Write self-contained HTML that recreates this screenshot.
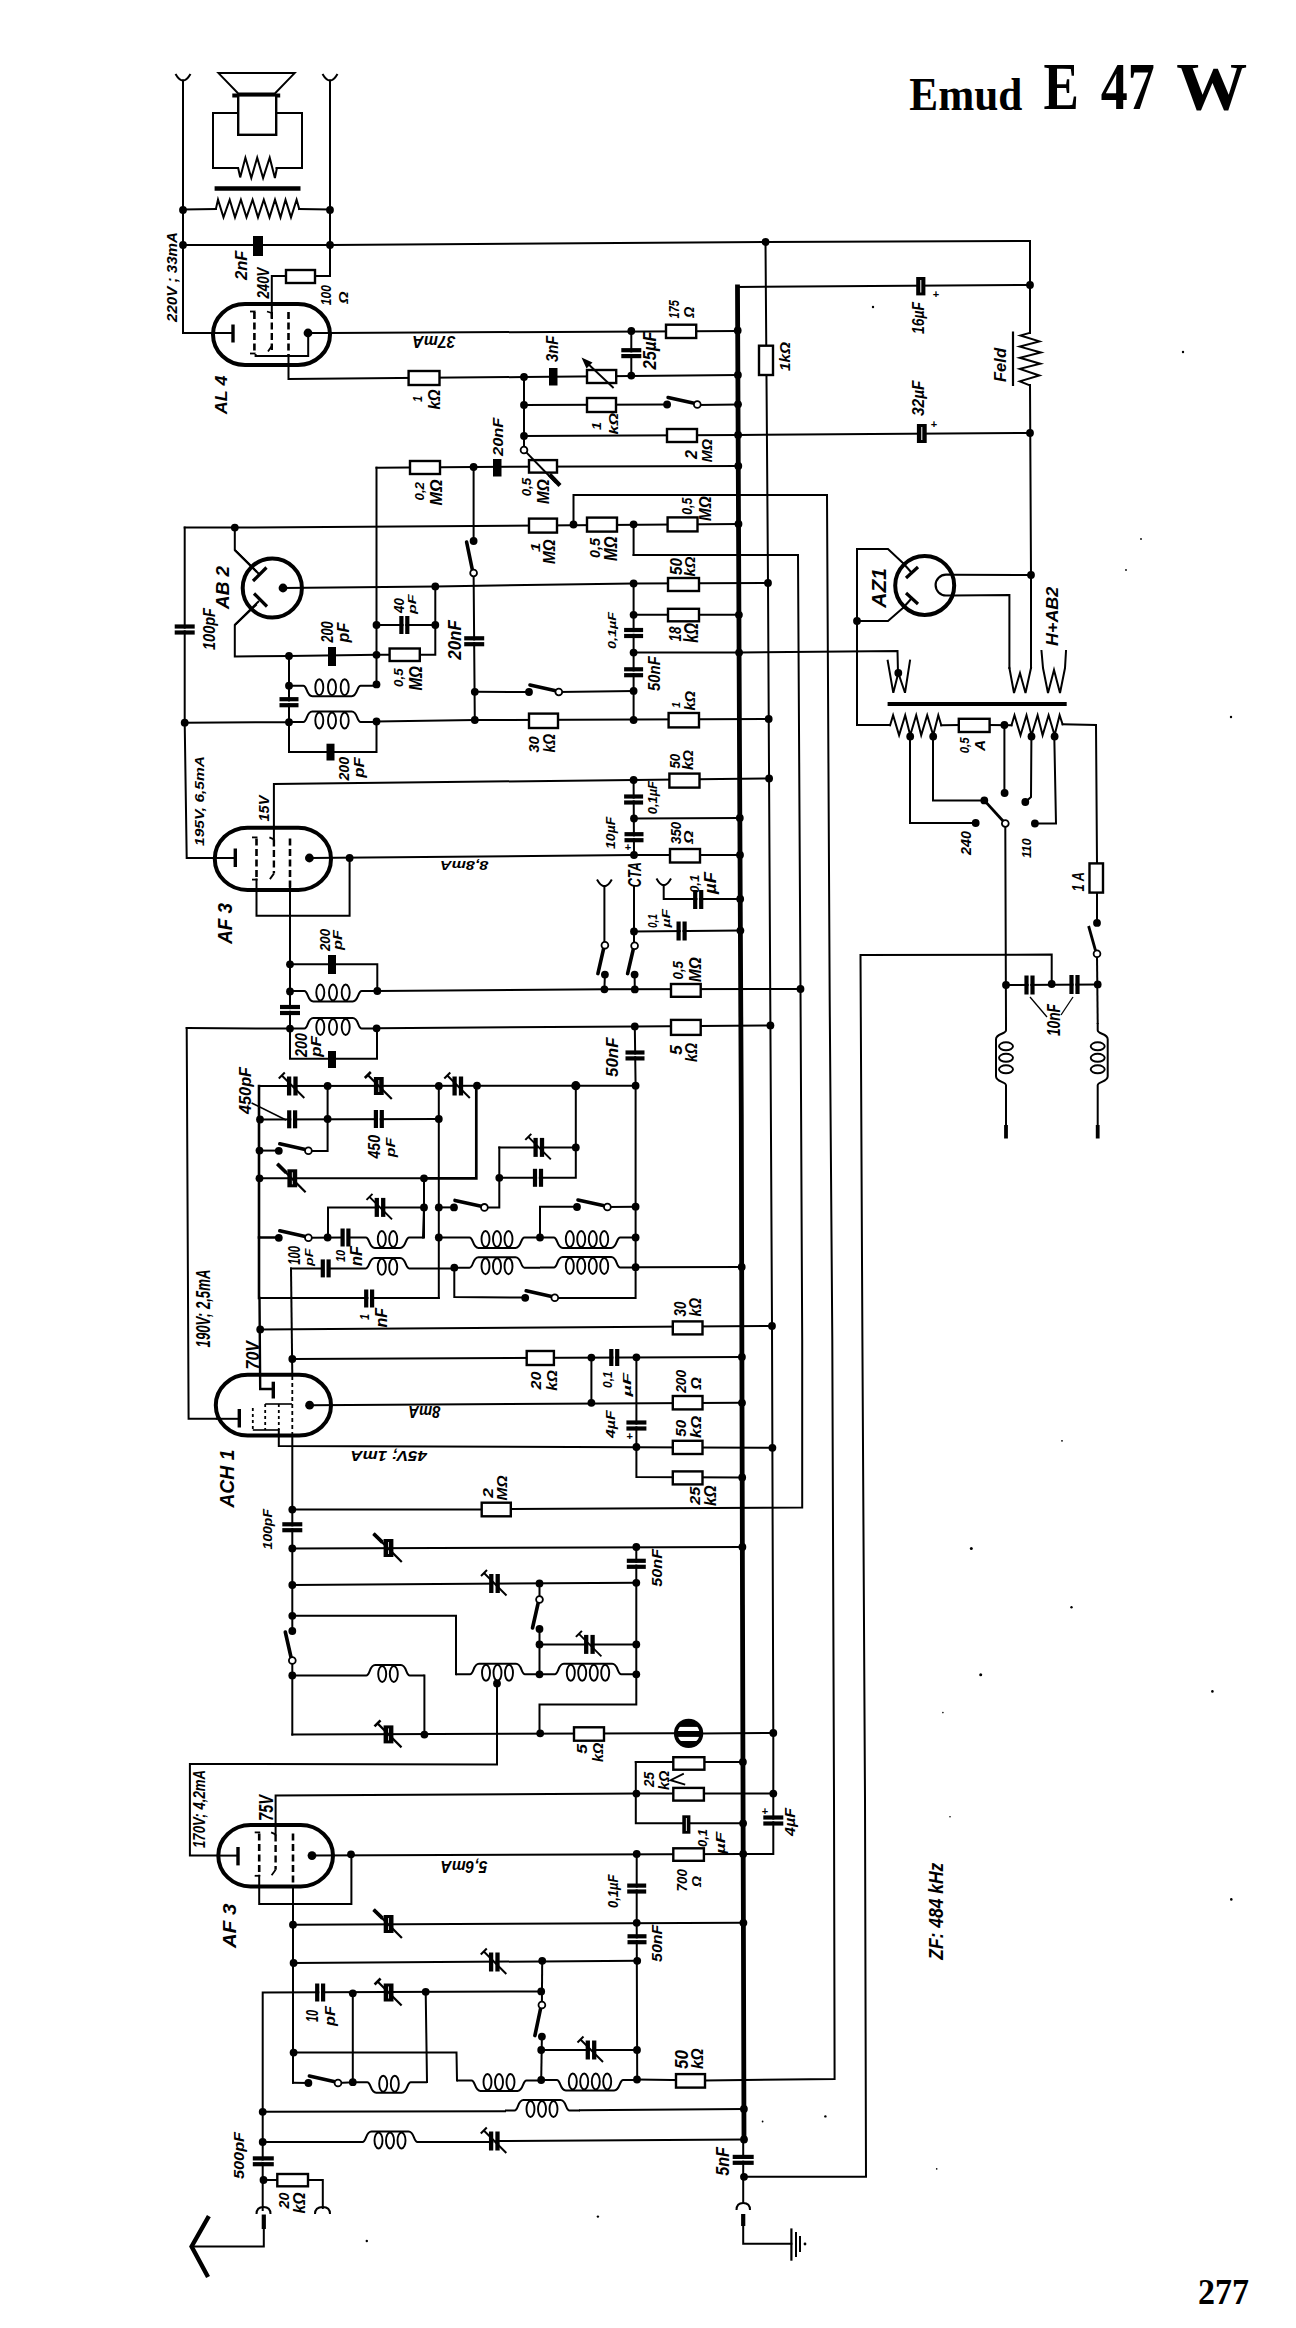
<!DOCTYPE html>
<html><head><meta charset="utf-8"><title>Emud E 47 W</title>
<style>html,body{margin:0;padding:0;background:#fff;}svg{display:block;}</style>
</head><body>
<svg width="1296" height="2328" viewBox="0 0 1296 2328">
<rect width="1296" height="2328" fill="#fff"/>
<text x="909.3" y="110.4" style="font-family:'Liberation Serif',serif;font-size:46px;font-weight:bold;" textLength="113" lengthAdjust="spacingAndGlyphs">Emud</text>
<text x="1043.6" y="109.4" style="font-family:'Liberation Serif',serif;font-size:68px;font-weight:bold;" textLength="35.4" lengthAdjust="spacingAndGlyphs">E</text>
<text x="1100.7" y="109.4" style="font-family:'Liberation Serif',serif;font-size:68px;font-weight:bold;" textLength="54" lengthAdjust="spacingAndGlyphs">47</text>
<text x="1176.3" y="109.4" style="font-family:'Liberation Serif',serif;font-size:68px;font-weight:bold;" textLength="71" lengthAdjust="spacingAndGlyphs">W</text>
<text x="1198" y="2304" style="font-family:'Liberation Serif',serif;font-size:35px;font-weight:bold;" textLength="51" lengthAdjust="spacingAndGlyphs">277</text>
<polyline points="737.5,287 739.5,750 741.3,1115 742.5,1605 744,2140" fill="none" stroke="#000" stroke-width="4.8" stroke-linejoin="miter" stroke-linecap="square"/>
<polyline points="765.5,242 768,583 770.4,1025 772,1326 773.3,1733 773.3,1854 743,1854" fill="none" stroke="#000" stroke-width="2" stroke-linejoin="miter" stroke-linecap="square"/>
<polyline points="633.6,555 798,555 800.5,989 802.2,1340 802.2,1507.5 510.8,1509" fill="none" stroke="#000" stroke-width="2" stroke-linejoin="miter" stroke-linecap="square"/>
<polyline points="573.5,524 573.5,495 827,495 829.7,1000 832.3,1340 834,1800 834.6,2079 705,2080.5" fill="none" stroke="#000" stroke-width="2" stroke-linejoin="miter" stroke-linecap="square"/>
<polyline points="743.2,2176.8 866,2176.8 865,1800 862.4,1340 860.5,955 1051.7,954.6 1051.7,984" fill="none" stroke="#000" stroke-width="2" stroke-linejoin="miter" stroke-linecap="square"/>
<path d="M175.5,74 Q183,87 190.5,74" fill="none" stroke="#000" stroke-width="2"/>
<path d="M322.5,74 Q330,87 337.5,74" fill="none" stroke="#000" stroke-width="2"/>
<polyline points="183,80.5 183,333 214,333" fill="none" stroke="#000" stroke-width="2" stroke-linejoin="miter" stroke-linecap="square"/>
<polyline points="330,80.5 330,276 315,276" fill="none" stroke="#000" stroke-width="2" stroke-linejoin="miter" stroke-linecap="square"/>
<polyline points="286,276 271.8,276 271.8,305" fill="none" stroke="#000" stroke-width="2" stroke-linejoin="miter" stroke-linecap="square"/>
<polygon points="218.5,73.1 294.6,73.1 274.9,93.4 238.2,93.4" fill="#fff" stroke="#000" stroke-width="2"/>
<polyline points="238,113 213,113 213,168 238,168" fill="none" stroke="#000" stroke-width="2" stroke-linejoin="miter" stroke-linecap="square"/>
<polyline points="276.5,113 302,113 302,168 276.5,168" fill="none" stroke="#000" stroke-width="2" stroke-linejoin="miter" stroke-linecap="square"/>
<polyline points="238.2,168.2 240.2,177.4 245.4,157.7 251.3,178 257.2,157.7 263.1,178 269.7,157.7 274.9,178 276.9,168.2" fill="none" stroke="#000" stroke-width="2" stroke-linejoin="miter" stroke-linecap="square"/>
<polyline points="183,209.5 215.9,208.9" fill="none" stroke="#000" stroke-width="2" stroke-linejoin="miter" stroke-linecap="square"/>
<polyline points="299.2,208.9 330,209.5" fill="none" stroke="#000" stroke-width="2" stroke-linejoin="miter" stroke-linecap="square"/>
<polyline points="215.9,208.9 218,199.7 223.5,217.4 229.7,199.7 235,217.4 240.9,199.7 246.5,217.4 252.6,199.7 258,217.4 263.8,199.7 269.5,217.4 275,199.7 280.5,217.4 285.5,199.7 291,217.4 296.6,199.7 299.2,208.9" fill="none" stroke="#000" stroke-width="2" stroke-linejoin="miter" stroke-linecap="square"/>
<polyline points="183,245 330,245 765.5,242 1030,241 1030,333" fill="none" stroke="#000" stroke-width="2" stroke-linejoin="miter" stroke-linecap="square"/>
<polyline points="308,333 330,333" fill="none" stroke="#000" stroke-width="2" stroke-linejoin="miter" stroke-linecap="square"/>
<polyline points="330,333 737.5,331" fill="none" stroke="#000" stroke-width="2" stroke-linejoin="miter" stroke-linecap="square"/>
<polyline points="288.5,356 288.5,379 524,377" fill="none" stroke="#000" stroke-width="2" stroke-linejoin="miter" stroke-linecap="square"/>
<polyline points="631.3,331 631.3,376" fill="none" stroke="#000" stroke-width="2" stroke-linejoin="miter" stroke-linecap="square"/>
<polyline points="524,377 737.8,375" fill="none" stroke="#000" stroke-width="2" stroke-linejoin="miter" stroke-linecap="square"/>
<polyline points="524,377 524,436" fill="none" stroke="#000" stroke-width="2" stroke-linejoin="miter" stroke-linecap="square"/>
<polyline points="524,405 667,404.5" fill="none" stroke="#000" stroke-width="2" stroke-linejoin="miter" stroke-linecap="square"/>
<polyline points="697,405 738,404.5" fill="none" stroke="#000" stroke-width="2" stroke-linejoin="miter" stroke-linecap="square"/>
<polyline points="524,436 738,435 1030,433" fill="none" stroke="#000" stroke-width="2" stroke-linejoin="miter" stroke-linecap="square"/>
<polyline points="524,436 524,446.5" fill="none" stroke="#000" stroke-width="2" stroke-linejoin="miter" stroke-linecap="square"/>
<polyline points="376.5,467.7 473.6,467 738.3,466" fill="none" stroke="#000" stroke-width="2" stroke-linejoin="miter" stroke-linecap="square"/>
<polyline points="184.7,527.6 234.8,527.6 738.5,524" fill="none" stroke="#000" stroke-width="2" stroke-linejoin="miter" stroke-linecap="square"/>
<polyline points="633.6,524 633.6,555" fill="none" stroke="#000" stroke-width="2" stroke-linejoin="miter" stroke-linecap="square"/>
<polyline points="473.6,467 473.6,541" fill="none" stroke="#000" stroke-width="2" stroke-linejoin="miter" stroke-linecap="square"/>
<polyline points="473.6,573 474.8,720" fill="none" stroke="#000" stroke-width="2" stroke-linejoin="miter" stroke-linecap="square"/>
<polyline points="376.5,467.7 376.5,684.4" fill="none" stroke="#000" stroke-width="2" stroke-linejoin="miter" stroke-linecap="square"/>
<polyline points="184.7,527.6 184.7,722.7" fill="none" stroke="#000" stroke-width="2" stroke-linejoin="miter" stroke-linecap="square"/>
<polyline points="184.7,722.7 186.7,858 214.8,858" fill="none" stroke="#000" stroke-width="2" stroke-linejoin="miter" stroke-linecap="square"/>
<polyline points="234.8,527.6 234.8,550 256,571" fill="none" stroke="#000" stroke-width="2" stroke-linejoin="miter" stroke-linecap="square"/>
<polyline points="256,605 234.8,625 234.8,656.5 289,656" fill="none" stroke="#000" stroke-width="2" stroke-linejoin="miter" stroke-linecap="square"/>
<polyline points="283,588 435.3,586.4 633.6,583.5 768,583" fill="none" stroke="#000" stroke-width="2" stroke-linejoin="miter" stroke-linecap="square"/>
<polyline points="376.5,625 435.3,625" fill="none" stroke="#000" stroke-width="2" stroke-linejoin="miter" stroke-linecap="square"/>
<polyline points="435.3,586.4 435.3,654.8 376.5,654.8" fill="none" stroke="#000" stroke-width="2" stroke-linejoin="miter" stroke-linecap="square"/>
<polyline points="289,656 376.5,654.8" fill="none" stroke="#000" stroke-width="2" stroke-linejoin="miter" stroke-linecap="square"/>
<polyline points="289,656 289,752 376.5,752 376.5,721.5" fill="none" stroke="#000" stroke-width="2" stroke-linejoin="miter" stroke-linecap="square"/>
<polyline points="184.7,722.7 289,722.2" fill="none" stroke="#000" stroke-width="2" stroke-linejoin="miter" stroke-linecap="square"/>
<polyline points="376.5,721.5 474.8,720 768.6,719" fill="none" stroke="#000" stroke-width="2" stroke-linejoin="miter" stroke-linecap="square"/>
<polyline points="633.6,583.5 633.6,720.5" fill="none" stroke="#000" stroke-width="2" stroke-linejoin="miter" stroke-linecap="square"/>
<polyline points="633.6,614.8 739,614.8" fill="none" stroke="#000" stroke-width="2" stroke-linejoin="miter" stroke-linecap="square"/>
<polyline points="633.6,652.6 739,652.6 897.5,651 898,673" fill="none" stroke="#000" stroke-width="2" stroke-linejoin="miter" stroke-linecap="square"/>
<polyline points="474.8,691.8 529,692" fill="none" stroke="#000" stroke-width="2" stroke-linejoin="miter" stroke-linecap="square"/>
<polyline points="558.8,692 633.6,691" fill="none" stroke="#000" stroke-width="2" stroke-linejoin="miter" stroke-linecap="square"/>
<polyline points="256.5,879.6 256.5,915.8 349.6,915.8 349.6,858" fill="none" stroke="#000" stroke-width="2" stroke-linejoin="miter" stroke-linecap="square"/>
<polyline points="273.9,839.4 273.9,784 633.6,780 768.6,778.5" fill="none" stroke="#000" stroke-width="2" stroke-linejoin="miter" stroke-linecap="square"/>
<polyline points="309.4,858 634,855 739.8,855" fill="none" stroke="#000" stroke-width="2" stroke-linejoin="miter" stroke-linecap="square"/>
<polyline points="633.6,780 634,855" fill="none" stroke="#000" stroke-width="2" stroke-linejoin="miter" stroke-linecap="square"/>
<polyline points="634,818.5 739.8,818" fill="none" stroke="#000" stroke-width="2" stroke-linejoin="miter" stroke-linecap="square"/>
<text x="628" y="851" text-anchor="middle" style="font-family:'Liberation Sans',sans-serif;font-size:11px;font-weight:bold">+</text>
<polyline points="290,888 290,1058.8 377,1058.8 377,1028" fill="none" stroke="#000" stroke-width="2" stroke-linejoin="miter" stroke-linecap="square"/>
<polyline points="290,964.3 377.3,964.3 377.3,991" fill="none" stroke="#000" stroke-width="2" stroke-linejoin="miter" stroke-linecap="square"/>
<polyline points="377.3,991 604.4,989.3 800.5,989" fill="none" stroke="#000" stroke-width="2" stroke-linejoin="miter" stroke-linecap="square"/>
<polyline points="186.7,1028 290,1028.6" fill="none" stroke="#000" stroke-width="2" stroke-linejoin="miter" stroke-linecap="square"/>
<polyline points="376.6,1028.3 634.8,1026.4 770.4,1025.4" fill="none" stroke="#000" stroke-width="2" stroke-linejoin="miter" stroke-linecap="square"/>
<path d="M597,879.5 Q604.4,893 611.8,879.5" fill="none" stroke="#000" stroke-width="2"/>
<path d="M656.5,878.5 Q663.7,892 671,878.5" fill="none" stroke="#000" stroke-width="2"/>
<polyline points="604.4,886 604.4,942" fill="none" stroke="#000" stroke-width="2" stroke-linejoin="miter" stroke-linecap="square"/>
<polyline points="604.9,974.6 604.4,989.3" fill="none" stroke="#000" stroke-width="2" stroke-linejoin="miter" stroke-linecap="square"/>
<polyline points="634,886 634,943" fill="none" stroke="#000" stroke-width="2" stroke-linejoin="miter" stroke-linecap="square"/>
<polyline points="634.6,974.6 634.8,989.4" fill="none" stroke="#000" stroke-width="2" stroke-linejoin="miter" stroke-linecap="square"/>
<polyline points="634,931.4 741,930.6" fill="none" stroke="#000" stroke-width="2" stroke-linejoin="miter" stroke-linecap="square"/>
<polyline points="663.7,885 663.7,899 740,899" fill="none" stroke="#000" stroke-width="2" stroke-linejoin="miter" stroke-linecap="square"/>
<polyline points="634.8,1026.4 635.6,1085.7" fill="none" stroke="#000" stroke-width="2" stroke-linejoin="miter" stroke-linecap="square"/>
<polyline points="186.7,1028 188.6,1418.8 215.8,1418.8" fill="none" stroke="#000" stroke-width="2" stroke-linejoin="miter" stroke-linecap="square"/>
<polyline points="259,1086 635.6,1085.7" fill="none" stroke="#000" stroke-width="2" stroke-linejoin="miter" stroke-linecap="square"/>
<polyline points="259,1119.5 438.8,1119" fill="none" stroke="#000" stroke-width="2" stroke-linejoin="miter" stroke-linecap="square"/>
<polyline points="259,1086 259,1237.5 278.8,1237.5" fill="none" stroke="#000" stroke-width="2.6" stroke-linejoin="miter" stroke-linecap="square"/>
<polyline points="327.6,1086 327.6,1151 308.4,1151" fill="none" stroke="#000" stroke-width="2" stroke-linejoin="miter" stroke-linecap="square"/>
<polyline points="259,1150.6 278.8,1150.6" fill="none" stroke="#000" stroke-width="2" stroke-linejoin="miter" stroke-linecap="square"/>
<polyline points="259,1178.3 424,1178.3" fill="none" stroke="#000" stroke-width="2" stroke-linejoin="miter" stroke-linecap="square"/>
<polyline points="424,1178.3 476.3,1178.3 476.3,1085.7" fill="none" stroke="#000" stroke-width="2.7" stroke-linejoin="miter" stroke-linecap="square"/>
<polyline points="424,1178.3 424,1237.5" fill="none" stroke="#000" stroke-width="2" stroke-linejoin="miter" stroke-linecap="square"/>
<polyline points="328,1237.5 328,1207.4 424,1207.4" fill="none" stroke="#000" stroke-width="2" stroke-linejoin="miter" stroke-linecap="square"/>
<polyline points="308.4,1237.8 343,1237.5" fill="none" stroke="#000" stroke-width="2" stroke-linejoin="miter" stroke-linecap="square"/>
<polyline points="423,1237.5 424,1207.4" fill="none" stroke="#000" stroke-width="2" stroke-linejoin="miter" stroke-linecap="square"/>
<polyline points="438.8,1086 438.8,1298" fill="none" stroke="#000" stroke-width="2" stroke-linejoin="miter" stroke-linecap="square"/>
<polyline points="438.8,1207.4 454,1207.4" fill="none" stroke="#000" stroke-width="2" stroke-linejoin="miter" stroke-linecap="square"/>
<polyline points="484.4,1207.4 499.3,1207.4 499.3,1147.4" fill="none" stroke="#000" stroke-width="2" stroke-linejoin="miter" stroke-linecap="square"/>
<polyline points="499.3,1147.4 575.8,1147.4" fill="none" stroke="#000" stroke-width="2" stroke-linejoin="miter" stroke-linecap="square"/>
<polyline points="575.8,1085.7 575.8,1177.8 499.3,1177.8" fill="none" stroke="#000" stroke-width="2" stroke-linejoin="miter" stroke-linecap="square"/>
<polyline points="540,1237.5 540,1206.7 577,1206.7" fill="none" stroke="#000" stroke-width="2" stroke-linejoin="miter" stroke-linecap="square"/>
<polyline points="607.4,1207 635.6,1206.7" fill="none" stroke="#000" stroke-width="2" stroke-linejoin="miter" stroke-linecap="square"/>
<polyline points="635.6,1085.7 635.6,1298 554.8,1298" fill="none" stroke="#000" stroke-width="2" stroke-linejoin="miter" stroke-linecap="square"/>
<polyline points="291,1268.4 322,1268.4" fill="none" stroke="#000" stroke-width="2" stroke-linejoin="miter" stroke-linecap="square"/>
<polyline points="635.6,1267.2 741.7,1267" fill="none" stroke="#000" stroke-width="2" stroke-linejoin="miter" stroke-linecap="square"/>
<polyline points="454.3,1267.7 454.3,1297 525.2,1297.5" fill="none" stroke="#000" stroke-width="2" stroke-linejoin="miter" stroke-linecap="square"/>
<polyline points="259,1298 438.8,1298" fill="none" stroke="#000" stroke-width="2" stroke-linejoin="miter" stroke-linecap="square"/>
<polyline points="259,1237.5 259,1298" fill="none" stroke="#000" stroke-width="2.6" stroke-linejoin="miter" stroke-linecap="square"/>
<polyline points="259.5,1298 260.2,1389 273.3,1389" fill="none" stroke="#000" stroke-width="2.4" stroke-linejoin="miter" stroke-linecap="square"/>
<polyline points="260.2,1329.4 772,1326" fill="none" stroke="#000" stroke-width="2" stroke-linejoin="miter" stroke-linecap="square"/>
<polyline points="291,1268.4 292.3,1375" fill="none" stroke="#000" stroke-width="2" stroke-linejoin="miter" stroke-linecap="square"/>
<polyline points="292.3,1359 742.2,1357" fill="none" stroke="#000" stroke-width="2" stroke-linejoin="miter" stroke-linecap="square"/>
<polyline points="309.6,1405.2 742.2,1402.8" fill="none" stroke="#000" stroke-width="2" stroke-linejoin="miter" stroke-linecap="square"/>
<polyline points="591.4,1357.6 591.4,1402.8" fill="none" stroke="#000" stroke-width="2" stroke-linejoin="miter" stroke-linecap="square"/>
<polyline points="278.8,1430 278.8,1446 772,1447.8" fill="none" stroke="#000" stroke-width="2" stroke-linejoin="miter" stroke-linecap="square"/>
<polyline points="636.4,1357.3 636.4,1477 742.2,1477.5" fill="none" stroke="#000" stroke-width="2" stroke-linejoin="miter" stroke-linecap="square"/>
<text x="629.7" y="1440" text-anchor="middle" style="font-family:'Liberation Sans',sans-serif;font-size:11px;font-weight:bold">+</text>
<polyline points="292.3,1436 292.3,1631" fill="none" stroke="#000" stroke-width="2" stroke-linejoin="miter" stroke-linecap="square"/>
<polyline points="292.3,1660.5 292.3,1734.6" fill="none" stroke="#000" stroke-width="2" stroke-linejoin="miter" stroke-linecap="square"/>
<polyline points="292.3,1509.6 481.7,1509.4" fill="none" stroke="#000" stroke-width="2" stroke-linejoin="miter" stroke-linecap="square"/>
<polyline points="292.3,1548.4 742.2,1547" fill="none" stroke="#000" stroke-width="2" stroke-linejoin="miter" stroke-linecap="square"/>
<polyline points="636.3,1547 636.3,1704.5 539.5,1704.5 539.5,1733" fill="none" stroke="#000" stroke-width="2" stroke-linejoin="miter" stroke-linecap="square"/>
<polyline points="292.3,1585 636.3,1582.8" fill="none" stroke="#000" stroke-width="2" stroke-linejoin="miter" stroke-linecap="square"/>
<polyline points="539.5,1583.4 539.5,1596.5" fill="none" stroke="#000" stroke-width="2" stroke-linejoin="miter" stroke-linecap="square"/>
<polyline points="539.5,1629 539.5,1674.3" fill="none" stroke="#000" stroke-width="2" stroke-linejoin="miter" stroke-linecap="square"/>
<polyline points="539.5,1644.4 636.3,1644.4" fill="none" stroke="#000" stroke-width="2" stroke-linejoin="miter" stroke-linecap="square"/>
<polyline points="292.3,1615.8 456,1615.8 456,1674.3" fill="none" stroke="#000" stroke-width="2" stroke-linejoin="miter" stroke-linecap="square"/>
<polyline points="424.4,1675.5 424.4,1734.6" fill="none" stroke="#000" stroke-width="2" stroke-linejoin="miter" stroke-linecap="square"/>
<polyline points="292.3,1734.6 674,1733.3" fill="none" stroke="#000" stroke-width="2" stroke-linejoin="miter" stroke-linecap="square"/>
<defs><clipPath id="eye"><circle cx="688.6" cy="1733.4" r="10.9"/></clipPath></defs>
<polyline points="702.5,1733.5 773.3,1733" fill="none" stroke="#000" stroke-width="2" stroke-linejoin="miter" stroke-linecap="square"/>
<polyline points="497,1683.5 497,1764.4 189.9,1764 189.9,1855.6 218.3,1855.6" fill="none" stroke="#000" stroke-width="2" stroke-linejoin="miter" stroke-linecap="square"/>
<polyline points="259.2,1875.8 259.2,1904 351.4,1904 351.4,1855" fill="none" stroke="#000" stroke-width="2" stroke-linejoin="miter" stroke-linecap="square"/>
<polyline points="275.6,1834.4 275.6,1795.6 636.4,1793.6 773.3,1793.6" fill="none" stroke="#000" stroke-width="2" stroke-linejoin="miter" stroke-linecap="square"/>
<polyline points="312,1855.6 742.8,1854" fill="none" stroke="#000" stroke-width="2" stroke-linejoin="miter" stroke-linecap="square"/>
<polyline points="635.8,1762 742.8,1762" fill="none" stroke="#000" stroke-width="2" stroke-linejoin="miter" stroke-linecap="square"/>
<polyline points="635.8,1762 635.8,1823.3 742.8,1823.3" fill="none" stroke="#000" stroke-width="2" stroke-linejoin="miter" stroke-linecap="square"/>
<text x="765" y="1815" text-anchor="middle" style="font-family:'Liberation Sans',sans-serif;font-size:11px;font-weight:bold">+</text>
<polyline points="636.7,1854 636.7,1922.8" fill="none" stroke="#000" stroke-width="2" stroke-linejoin="miter" stroke-linecap="square"/>
<polyline points="293,1886 293,2082.7" fill="none" stroke="#000" stroke-width="2" stroke-linejoin="miter" stroke-linecap="square"/>
<polyline points="293,1924.7 742.8,1922.8" fill="none" stroke="#000" stroke-width="2" stroke-linejoin="miter" stroke-linecap="square"/>
<polyline points="636.7,1922.8 637.2,2080" fill="none" stroke="#000" stroke-width="2" stroke-linejoin="miter" stroke-linecap="square"/>
<polyline points="293.6,1963 637.2,1960.8" fill="none" stroke="#000" stroke-width="2" stroke-linejoin="miter" stroke-linecap="square"/>
<polyline points="262.7,2210 262.7,1992.6 541.2,1991.4" fill="none" stroke="#000" stroke-width="2" stroke-linejoin="miter" stroke-linecap="square"/>
<polyline points="542.2,1960.8 541.9,2002" fill="none" stroke="#000" stroke-width="2" stroke-linejoin="miter" stroke-linecap="square"/>
<polyline points="541.9,2036.6 541.2,2080" fill="none" stroke="#000" stroke-width="2" stroke-linejoin="miter" stroke-linecap="square"/>
<polyline points="541.2,2050 637,2050" fill="none" stroke="#000" stroke-width="2" stroke-linejoin="miter" stroke-linecap="square"/>
<polyline points="293.6,2052.6 456.5,2052.6 457,2080.5" fill="none" stroke="#000" stroke-width="2" stroke-linejoin="miter" stroke-linecap="square"/>
<polyline points="352.8,1993.3 352.8,2082.2" fill="none" stroke="#000" stroke-width="2" stroke-linejoin="miter" stroke-linecap="square"/>
<polyline points="425.7,1991.8 427,2082" fill="none" stroke="#000" stroke-width="2" stroke-linejoin="miter" stroke-linecap="square"/>
<polyline points="293,2082.7 308.4,2083" fill="none" stroke="#000" stroke-width="2" stroke-linejoin="miter" stroke-linecap="square"/>
<polyline points="338,2083 352.8,2082.2" fill="none" stroke="#000" stroke-width="2" stroke-linejoin="miter" stroke-linecap="square"/>
<polyline points="637,2079.5 705,2080.5" fill="none" stroke="#000" stroke-width="2" stroke-linejoin="miter" stroke-linecap="square"/>
<polyline points="262.7,2111.8 505,2111.2" fill="none" stroke="#000" stroke-width="2" stroke-linejoin="miter" stroke-linecap="square"/>
<polyline points="580,2110.3 743.2,2109" fill="none" stroke="#000" stroke-width="2" stroke-linejoin="miter" stroke-linecap="square"/>
<polyline points="494,2141 743.2,2139.5" fill="none" stroke="#000" stroke-width="2" stroke-linejoin="miter" stroke-linecap="square"/>
<polyline points="263.5,2180 322.8,2180 322.8,2208" fill="none" stroke="#000" stroke-width="2" stroke-linejoin="miter" stroke-linecap="square"/>
<path d="M315,2214 Q315,2207 322.8,2207 Q330,2207 330,2214" fill="none" stroke="#000" stroke-width="2"/>
<path d="M256.5,2214 Q256.5,2207 263.5,2207 Q270.5,2207 270.5,2214" fill="none" stroke="#000" stroke-width="2"/>
<polyline points="263.8,2229 263.8,2246.5 191.6,2246.5" fill="none" stroke="#000" stroke-width="2" stroke-linejoin="miter" stroke-linecap="square"/>
<polyline points="207.8,2218 191.6,2246.5 207,2275" fill="none" stroke="#000" stroke-width="4.4" stroke-linejoin="miter" stroke-linecap="square"/>
<polyline points="743.2,2140 743.2,2203" fill="none" stroke="#000" stroke-width="2" stroke-linejoin="miter" stroke-linecap="square"/>
<path d="M736.5,2210 Q736.5,2203 743.2,2203 Q750,2203 750,2210" fill="none" stroke="#000" stroke-width="2"/>
<polyline points="743.2,2226 743.2,2243.7 791.4,2243.7" fill="none" stroke="#000" stroke-width="2" stroke-linejoin="miter" stroke-linecap="square"/>
<polyline points="737.5,287 1030,285" fill="none" stroke="#000" stroke-width="2" stroke-linejoin="miter" stroke-linecap="square"/>
<text x="936" y="298" text-anchor="middle" style="font-family:'Liberation Sans',sans-serif;font-size:11px;font-weight:bold">+</text>
<polyline points="1029.6,332.9 1020.4,335.5 1039.4,341.4 1019.8,346.6 1040.9,352.5 1019.8,357.8 1040.3,363.7 1019.8,368.9 1039.4,375.5 1019.8,381.4 1029.6,385.3" fill="none" stroke="#000" stroke-width="2" stroke-linejoin="miter" stroke-linecap="square"/>
<polyline points="1030,385 1031,575 1031,668" fill="none" stroke="#000" stroke-width="2" stroke-linejoin="miter" stroke-linecap="square"/>
<text x="934" y="428" text-anchor="middle" style="font-family:'Liberation Sans',sans-serif;font-size:11px;font-weight:bold">+</text>
<polyline points="857,549 888,549 903,563" fill="none" stroke="#000" stroke-width="2" stroke-linejoin="miter" stroke-linecap="square"/>
<polyline points="857,621 888,621 903,608" fill="none" stroke="#000" stroke-width="2" stroke-linejoin="miter" stroke-linecap="square"/>
<polyline points="857,549 857,725 890,725" fill="none" stroke="#000" stroke-width="2" stroke-linejoin="miter" stroke-linecap="square"/>
<path d="M953,574.7 L946,574.7 A10.4,10.4 0 0 0 946,595.5 L953,595.5" fill="none" stroke="#000" stroke-width="2.2"/>
<polyline points="953,574.7 1031,575" fill="none" stroke="#000" stroke-width="2" stroke-linejoin="miter" stroke-linecap="square"/>
<polyline points="953,595.5 1009.4,595 1009.4,668" fill="none" stroke="#000" stroke-width="2" stroke-linejoin="miter" stroke-linecap="square"/>
<polyline points="1009.4,668 1014,693 1020,673 1025.5,693 1031,668" fill="none" stroke="#000" stroke-width="2" stroke-linejoin="miter" stroke-linecap="square"/>
<polyline points="1041.5,651 1043,668 1048,693 1054,670 1060,693 1065,668 1066,651" fill="none" stroke="#000" stroke-width="2" stroke-linejoin="miter" stroke-linecap="square"/>
<polyline points="887.7,660.7 893.3,692.8 898.3,673 905,692.8 910,660.7" fill="none" stroke="#000" stroke-width="2" stroke-linejoin="miter" stroke-linecap="square"/>
<polyline points="890.1,725.3 893.1,715.2 899.1,735.3 905.2,715.2 910.2,735.3 916.2,715.2 921.2,735.3 927.2,715.2 933.2,735.3 938.3,715.2 941.3,725.3" fill="none" stroke="#000" stroke-width="2" stroke-linejoin="miter" stroke-linecap="square"/>
<polyline points="941.3,725.3 958.8,725" fill="none" stroke="#000" stroke-width="2" stroke-linejoin="miter" stroke-linecap="square"/>
<polyline points="989.6,725 1011.5,725.3" fill="none" stroke="#000" stroke-width="2" stroke-linejoin="miter" stroke-linecap="square"/>
<polyline points="1011.5,725.3 1014.5,715.2 1020.5,735.3 1026.5,715.2 1031.5,735.3 1037.6,715.2 1042.6,735.3 1048.6,715.2 1054.6,735.3 1059.6,715.2 1062.6,724.3" fill="none" stroke="#000" stroke-width="2" stroke-linejoin="miter" stroke-linecap="square"/>
<polyline points="1062.6,724.3 1096,725 1097,863.4" fill="none" stroke="#000" stroke-width="2" stroke-linejoin="miter" stroke-linecap="square"/>
<polyline points="910,737 910,823 975.7,823" fill="none" stroke="#000" stroke-width="2" stroke-linejoin="miter" stroke-linecap="square"/>
<polyline points="933,737 933,800.4 984.3,800.4" fill="none" stroke="#000" stroke-width="2" stroke-linejoin="miter" stroke-linecap="square"/>
<polyline points="1004.4,725 1004.4,793" fill="none" stroke="#000" stroke-width="2" stroke-linejoin="miter" stroke-linecap="square"/>
<polyline points="1031.4,737 1031,797 1025.3,802" fill="none" stroke="#000" stroke-width="2" stroke-linejoin="miter" stroke-linecap="square"/>
<polyline points="1054.3,737 1056,823.5 1034.9,823.5" fill="none" stroke="#000" stroke-width="2" stroke-linejoin="miter" stroke-linecap="square"/>
<polyline points="1005.3,826.5 1006,1023" fill="none" stroke="#000" stroke-width="2" stroke-linejoin="miter" stroke-linecap="square"/>
<polyline points="1097,892.6 1097,922.9" fill="none" stroke="#000" stroke-width="2" stroke-linejoin="miter" stroke-linecap="square"/>
<polyline points="1097,956.9 1097.7,1023" fill="none" stroke="#000" stroke-width="2" stroke-linejoin="miter" stroke-linecap="square"/>
<polyline points="1006,985 1097.7,984.4" fill="none" stroke="#000" stroke-width="2" stroke-linejoin="miter" stroke-linecap="square"/>
<rect x="286" y="270" width="29" height="13" fill="#fff" stroke="#000" stroke-width="2.4"/>
<line x1="232.3" y1="95.4" x2="280.2" y2="95.4" stroke="#000" stroke-width="4" stroke-linecap="butt"/>
<rect x="238.2" y="95.4" width="38" height="39.4" fill="#fff" stroke="#000" stroke-width="2.4"/>
<line x1="214.6" y1="188.5" x2="300.5" y2="188.5" stroke="#000" stroke-width="4.4" stroke-linecap="butt"/>
<rect x="253" y="236" width="10" height="20" fill="#000"/>
<rect x="213" y="304" width="117" height="61" rx="32" ry="30.5" fill="none" stroke="#000" stroke-width="4"/>
<line x1="213" y1="333" x2="233" y2="333" stroke="#000" stroke-width="2" stroke-linecap="butt"/>
<line x1="233" y1="324.5" x2="233" y2="342.5" stroke="#000" stroke-width="3.4" stroke-linecap="butt"/>
<line x1="254.4" y1="312" x2="254.4" y2="353" stroke="#000" stroke-width="2.6" stroke-dasharray="7,3.5"/>
<line x1="250" y1="311.5" x2="255.5" y2="311.5" stroke="#000" stroke-width="1.8" stroke-linecap="butt"/>
<line x1="250" y1="353.5" x2="255.5" y2="353.5" stroke="#000" stroke-width="1.8" stroke-linecap="butt"/>
<line x1="271.8" y1="312" x2="271.8" y2="350" stroke="#000" stroke-width="2.4" stroke-dasharray="7,3.5"/>
<line x1="271.8" y1="305" x2="271.8" y2="318" stroke="#000" stroke-width="2" stroke-linecap="butt"/>
<path d="M267,311.5 L271.8,313 M271.8,346 L268,351.5" fill="none" stroke="#000" stroke-width="1.8"/>
<line x1="288.5" y1="312" x2="288.5" y2="356" stroke="#000" stroke-width="2.6" stroke-dasharray="7,3.5"/>
<polyline points="255.6,354 255.6,356 308.2,356 308.2,333" fill="none" stroke="#000" stroke-width="2"/>
<rect x="408.6" y="371" width="30.9" height="14" fill="#fff" stroke="#000" stroke-width="2.4"/>
<rect x="666" y="324.7" width="30.2" height="13.3" fill="#fff" stroke="#000" stroke-width="2.4"/>
<rect x="629.3" y="352.4" width="4" height="1.7" fill="#fff"/>
<line x1="621.3" y1="350.2" x2="641.3" y2="350.2" stroke="#000" stroke-width="4.2" stroke-linecap="butt"/>
<line x1="621.3" y1="356.1" x2="641.3" y2="356.1" stroke="#000" stroke-width="4.2" stroke-linecap="butt"/>
<rect x="549" y="368" width="8.5" height="17.5" fill="#000"/>
<rect x="587" y="370" width="29.2" height="13" fill="#fff" stroke="#000" stroke-width="2.4"/>
<line x1="585" y1="361" x2="613.6" y2="388" stroke="#000" stroke-width="1.9" stroke-linecap="butt"/>
<polygon points="581.5,357.5 592.5,362.5 586.5,368.5" fill="#000"/>
<rect x="587" y="398" width="29" height="14" fill="#fff" stroke="#000" stroke-width="2.4"/>
<line x1="668.1" y1="397.5" x2="695.3" y2="403.5" stroke="#000" stroke-width="3.6" stroke-linecap="round"/>
<rect x="667" y="429" width="30" height="13" fill="#fff" stroke="#000" stroke-width="2.4"/>
<rect x="410" y="461" width="30" height="13" fill="#fff" stroke="#000" stroke-width="2.4"/>
<rect x="493" y="459" width="8.5" height="17.5" fill="#000"/>
<rect x="529" y="460.1" width="28" height="12.5" fill="#fff" stroke="#000" stroke-width="2.4"/>
<line x1="526" y1="452" x2="556" y2="483" stroke="#000" stroke-width="1.8" stroke-linecap="butt"/>
<line x1="549.5" y1="474.5" x2="560" y2="485.5" stroke="#000" stroke-width="4.2" stroke-linecap="butt"/>
<rect x="529" y="518.6" width="28" height="14" fill="#fff" stroke="#000" stroke-width="2.4"/>
<rect x="587" y="517.6" width="30" height="14" fill="#fff" stroke="#000" stroke-width="2.4"/>
<rect x="667.6" y="517.4" width="29.9" height="14" fill="#fff" stroke="#000" stroke-width="2.4"/>
<line x1="466.6" y1="542" x2="472.6" y2="571" stroke="#000" stroke-width="3.6" stroke-linecap="round"/>
<rect x="472.2" y="640.4" width="4" height="1.7" fill="#fff"/>
<line x1="464.2" y1="638.3" x2="484.2" y2="638.3" stroke="#000" stroke-width="4.2" stroke-linecap="butt"/>
<line x1="464.2" y1="644.2" x2="484.2" y2="644.2" stroke="#000" stroke-width="4.2" stroke-linecap="butt"/>
<rect x="182.7" y="628.6" width="4" height="1.7" fill="#fff"/>
<line x1="174.7" y1="626.5" x2="194.7" y2="626.5" stroke="#000" stroke-width="4.2" stroke-linecap="butt"/>
<line x1="174.7" y1="632.5" x2="194.7" y2="632.5" stroke="#000" stroke-width="4.2" stroke-linecap="butt"/>
<circle cx="272.3" cy="588" r="29.6" fill="none" stroke="#000" stroke-width="4"/>
<line x1="234.8" y1="550" x2="259" y2="574" stroke="#000" stroke-width="2" stroke-linecap="butt"/>
<line x1="253" y1="581" x2="266.5" y2="567.5" stroke="#000" stroke-width="3.2" stroke-linecap="butt"/>
<line x1="234.8" y1="625" x2="259" y2="601" stroke="#000" stroke-width="2" stroke-linecap="butt"/>
<line x1="254" y1="593.5" x2="267" y2="606.5" stroke="#000" stroke-width="3.2" stroke-linecap="butt"/>
<rect x="403.6" y="623" width="1.7" height="4" fill="#fff"/>
<line x1="401.4" y1="616" x2="401.4" y2="634" stroke="#000" stroke-width="4.2" stroke-linecap="butt"/>
<line x1="407.3" y1="616" x2="407.3" y2="634" stroke="#000" stroke-width="4.2" stroke-linecap="butt"/>
<rect x="389.6" y="648.5" width="30.2" height="12.5" fill="#fff" stroke="#000" stroke-width="2.4"/>
<rect x="328" y="647" width="8" height="19" fill="#000"/>
<path d="M289,685.7 L303.3,685.7 C307.3,685.7 306.3,696.2 312.3,696.2 L351.7,696.2 C357.7,696.2 356.7,685.7 360.7,685.7 L376.5,685.7" fill="none" stroke="#000" stroke-width="2"/>
<ellipse cx="319.3" cy="687.2" rx="4" ry="8" fill="none" stroke="#000" stroke-width="1.9"/>
<ellipse cx="332" cy="687.2" rx="4" ry="8" fill="none" stroke="#000" stroke-width="1.9"/>
<ellipse cx="344.7" cy="687.2" rx="4" ry="8" fill="none" stroke="#000" stroke-width="1.9"/>
<rect x="287" y="701.4" width="4" height="1.7" fill="#fff"/>
<line x1="279.5" y1="699.2" x2="298.5" y2="699.2" stroke="#000" stroke-width="4.2" stroke-linecap="butt"/>
<line x1="279.5" y1="705.2" x2="298.5" y2="705.2" stroke="#000" stroke-width="4.2" stroke-linecap="butt"/>
<path d="M289,722 L303.3,722 C307.3,722 306.3,711.5 312.3,711.5 L351.7,711.5 C357.7,711.5 356.7,722 360.7,722 L376.5,722" fill="none" stroke="#000" stroke-width="2"/>
<ellipse cx="319.3" cy="720.5" rx="4" ry="8" fill="none" stroke="#000" stroke-width="1.9"/>
<ellipse cx="332" cy="720.5" rx="4" ry="8" fill="none" stroke="#000" stroke-width="1.9"/>
<ellipse cx="344.7" cy="720.5" rx="4" ry="8" fill="none" stroke="#000" stroke-width="1.9"/>
<rect x="326.5" y="743.7" width="8" height="16.8" fill="#000"/>
<rect x="668" y="578" width="31" height="13" fill="#fff" stroke="#000" stroke-width="2.4"/>
<rect x="668" y="608.8" width="31" height="12.5" fill="#fff" stroke="#000" stroke-width="2.4"/>
<rect x="631.6" y="632.1" width="4" height="1.7" fill="#fff"/>
<line x1="624.1" y1="630" x2="643.1" y2="630" stroke="#000" stroke-width="4.2" stroke-linecap="butt"/>
<line x1="624.1" y1="636" x2="643.1" y2="636" stroke="#000" stroke-width="4.2" stroke-linecap="butt"/>
<rect x="631.6" y="671.4" width="4" height="1.7" fill="#fff"/>
<line x1="624.1" y1="669.3" x2="643.1" y2="669.3" stroke="#000" stroke-width="4.2" stroke-linecap="butt"/>
<line x1="624.1" y1="675.2" x2="643.1" y2="675.2" stroke="#000" stroke-width="4.2" stroke-linecap="butt"/>
<line x1="530" y1="685" x2="556.8" y2="691" stroke="#000" stroke-width="3.6" stroke-linecap="round"/>
<rect x="529" y="713.6" width="29" height="14.4" fill="#fff" stroke="#000" stroke-width="2.4"/>
<rect x="668.6" y="713" width="30.4" height="14.4" fill="#fff" stroke="#000" stroke-width="2.4"/>
<rect x="214.8" y="827.7" width="116.2" height="62.3" rx="32.7" ry="31.1" fill="none" stroke="#000" stroke-width="4"/>
<line x1="214.8" y1="858" x2="235.3" y2="858" stroke="#000" stroke-width="2" stroke-linecap="butt"/>
<line x1="235.3" y1="848.5" x2="235.3" y2="867" stroke="#000" stroke-width="3.4" stroke-linecap="butt"/>
<line x1="256.5" y1="838.4" x2="256.5" y2="879.6" stroke="#000" stroke-width="2.6" stroke-dasharray="7,3.5"/>
<line x1="252" y1="837.4" x2="257.5" y2="837.4" stroke="#000" stroke-width="1.8" stroke-linecap="butt"/>
<line x1="252" y1="879.6" x2="257.5" y2="879.6" stroke="#000" stroke-width="1.8" stroke-linecap="butt"/>
<line x1="273.9" y1="839.4" x2="273.9" y2="873.6" stroke="#000" stroke-width="2.4" stroke-dasharray="7,3.5"/>
<path d="M269.4,837.4 L273.9,839.4 M273.9,873.6 L269.9,879.1" fill="none" stroke="#000" stroke-width="1.8"/>
<line x1="290" y1="838.4" x2="290" y2="888" stroke="#000" stroke-width="2.6" stroke-dasharray="7,3.5"/>
<rect x="669.4" y="773.6" width="30.1" height="14" fill="#fff" stroke="#000" stroke-width="2.4"/>
<rect x="631.6" y="798.6" width="4" height="1.7" fill="#fff"/>
<line x1="624.1" y1="796.5" x2="643.1" y2="796.5" stroke="#000" stroke-width="4.2" stroke-linecap="butt"/>
<line x1="624.1" y1="802.5" x2="643.1" y2="802.5" stroke="#000" stroke-width="4.2" stroke-linecap="butt"/>
<rect x="632" y="836.4" width="4" height="1.7" fill="#fff"/>
<line x1="624.5" y1="834.2" x2="643.5" y2="834.2" stroke="#000" stroke-width="4.2" stroke-linecap="butt"/>
<line x1="624.5" y1="840.2" x2="643.5" y2="840.2" stroke="#000" stroke-width="4.2" stroke-linecap="butt"/>
<rect x="670" y="849" width="30" height="13.5" fill="#fff" stroke="#000" stroke-width="2.4"/>
<rect x="328" y="955" width="8" height="19" fill="#000"/>
<path d="M290,991 L304.3,991 C308.3,991 307.3,1001.5 313.3,1001.5 L352.7,1001.5 C358.7,1001.5 357.7,991 361.7,991 L377.3,991" fill="none" stroke="#000" stroke-width="2"/>
<ellipse cx="320.3" cy="992.5" rx="4" ry="8" fill="none" stroke="#000" stroke-width="1.9"/>
<ellipse cx="333" cy="992.5" rx="4" ry="8" fill="none" stroke="#000" stroke-width="1.9"/>
<ellipse cx="345.7" cy="992.5" rx="4" ry="8" fill="none" stroke="#000" stroke-width="1.9"/>
<rect x="288" y="1009.1" width="4" height="1.7" fill="#fff"/>
<line x1="280" y1="1007" x2="300" y2="1007" stroke="#000" stroke-width="4.2" stroke-linecap="butt"/>
<line x1="280" y1="1013" x2="300" y2="1013" stroke="#000" stroke-width="4.2" stroke-linecap="butt"/>
<path d="M290,1028.5 L304.3,1028.5 C308.3,1028.5 307.3,1018 313.3,1018 L352.7,1018 C358.7,1018 357.7,1028.5 361.7,1028.5 L376.6,1028.5" fill="none" stroke="#000" stroke-width="2"/>
<ellipse cx="320.3" cy="1027" rx="4" ry="8" fill="none" stroke="#000" stroke-width="1.9"/>
<ellipse cx="333" cy="1027" rx="4" ry="8" fill="none" stroke="#000" stroke-width="1.9"/>
<ellipse cx="345.7" cy="1027" rx="4" ry="8" fill="none" stroke="#000" stroke-width="1.9"/>
<rect x="328" y="1051" width="8" height="17" fill="#000"/>
<line x1="597.9" y1="973.6" x2="603.9" y2="947.3" stroke="#000" stroke-width="3.6" stroke-linecap="round"/>
<line x1="627.6" y1="973.6" x2="633.6" y2="947.8" stroke="#000" stroke-width="3.6" stroke-linecap="round"/>
<rect x="680.8" y="929" width="1.7" height="4" fill="#fff"/>
<line x1="678.6" y1="921.5" x2="678.6" y2="940.5" stroke="#000" stroke-width="4.2" stroke-linecap="butt"/>
<line x1="684.6" y1="921.5" x2="684.6" y2="940.5" stroke="#000" stroke-width="4.2" stroke-linecap="butt"/>
<rect x="697.4" y="897.5" width="1.7" height="4" fill="#fff"/>
<line x1="695.2" y1="890" x2="695.2" y2="909" stroke="#000" stroke-width="4.2" stroke-linecap="butt"/>
<line x1="701.2" y1="890" x2="701.2" y2="909" stroke="#000" stroke-width="4.2" stroke-linecap="butt"/>
<rect x="671" y="984" width="29.7" height="12.8" fill="#fff" stroke="#000" stroke-width="2.4"/>
<rect x="671" y="1019.9" width="29.7" height="15" fill="#fff" stroke="#000" stroke-width="2.4"/>
<rect x="633" y="1054.5" width="4" height="1.7" fill="#fff"/>
<line x1="625.5" y1="1052.5" x2="644.5" y2="1052.5" stroke="#000" stroke-width="4.2" stroke-linecap="butt"/>
<line x1="625.5" y1="1058.4" x2="644.5" y2="1058.4" stroke="#000" stroke-width="4.2" stroke-linecap="butt"/>
<rect x="291.3" y="1084" width="2" height="4" fill="#fff"/>
<line x1="289.1" y1="1076.5" x2="289.1" y2="1095.5" stroke="#000" stroke-width="4.3" stroke-linecap="butt"/>
<line x1="295.5" y1="1076.5" x2="295.5" y2="1095.5" stroke="#000" stroke-width="4.3" stroke-linecap="butt"/>
<line x1="281.8" y1="1075.5" x2="304.3" y2="1098" stroke="#000" stroke-width="1.9" stroke-linecap="butt"/>
<line x1="278.8" y1="1078.5" x2="284.8" y2="1072.5" stroke="#000" stroke-width="2" stroke-linecap="butt"/>
<rect x="373.9" y="1077" width="9.8" height="18" fill="#000"/>
<rect x="378.4" y="1080" width="0.8" height="12" fill="#fff"/>
<line x1="367.8" y1="1075" x2="391.8" y2="1099" stroke="#000" stroke-width="2.2" stroke-linecap="butt"/>
<line x1="364.8" y1="1078" x2="370.8" y2="1072" stroke="#000" stroke-width="2.6" stroke-linecap="butt"/>
<rect x="456.8" y="1084" width="2" height="4" fill="#fff"/>
<line x1="454.6" y1="1076.5" x2="454.6" y2="1095.5" stroke="#000" stroke-width="4.3" stroke-linecap="butt"/>
<line x1="461" y1="1076.5" x2="461" y2="1095.5" stroke="#000" stroke-width="4.3" stroke-linecap="butt"/>
<line x1="447.3" y1="1075.5" x2="469.8" y2="1098" stroke="#000" stroke-width="1.9" stroke-linecap="butt"/>
<line x1="444.3" y1="1078.5" x2="450.3" y2="1072.5" stroke="#000" stroke-width="2" stroke-linecap="butt"/>
<rect x="291.3" y="1117.3" width="1.7" height="4" fill="#fff"/>
<line x1="289.2" y1="1110.3" x2="289.2" y2="1128.3" stroke="#000" stroke-width="4.2" stroke-linecap="butt"/>
<line x1="295.1" y1="1110.3" x2="295.1" y2="1128.3" stroke="#000" stroke-width="4.2" stroke-linecap="butt"/>
<rect x="378" y="1117" width="1.7" height="4" fill="#fff"/>
<line x1="375.9" y1="1110" x2="375.9" y2="1128" stroke="#000" stroke-width="4.2" stroke-linecap="butt"/>
<line x1="381.8" y1="1110" x2="381.8" y2="1128" stroke="#000" stroke-width="4.2" stroke-linecap="butt"/>
<line x1="251.6" y1="1103" x2="286" y2="1120" stroke="#000" stroke-width="1.5" stroke-linecap="butt"/>
<line x1="279.8" y1="1143.8" x2="306.4" y2="1149.8" stroke="#000" stroke-width="3.6" stroke-linecap="round"/>
<rect x="287.4" y="1169.3" width="9.8" height="18" fill="#000"/>
<rect x="291.9" y="1172.3" width="0.8" height="12" fill="#fff"/>
<line x1="277.3" y1="1163.9" x2="305.6" y2="1192.3" stroke="#000" stroke-width="2.2" stroke-linecap="butt"/>
<line x1="277.3" y1="1163.9" x2="286.3" y2="1172.7" stroke="#000" stroke-width="3.6" stroke-linecap="butt"/>
<rect x="379" y="1205.4" width="2" height="4" fill="#fff"/>
<line x1="376.8" y1="1197.9" x2="376.8" y2="1216.9" stroke="#000" stroke-width="4.3" stroke-linecap="butt"/>
<line x1="383.2" y1="1197.9" x2="383.2" y2="1216.9" stroke="#000" stroke-width="4.3" stroke-linecap="butt"/>
<line x1="369.5" y1="1196.9" x2="392" y2="1219.4" stroke="#000" stroke-width="1.9" stroke-linecap="butt"/>
<line x1="366.5" y1="1199.9" x2="372.5" y2="1193.9" stroke="#000" stroke-width="2" stroke-linecap="butt"/>
<line x1="279.8" y1="1230.8" x2="306.4" y2="1236.8" stroke="#000" stroke-width="3.6" stroke-linecap="round"/>
<rect x="344.7" y="1235.5" width="1.7" height="4" fill="#fff"/>
<line x1="342.6" y1="1228.5" x2="342.6" y2="1246.5" stroke="#000" stroke-width="4.2" stroke-linecap="butt"/>
<line x1="348.4" y1="1228.5" x2="348.4" y2="1246.5" stroke="#000" stroke-width="4.2" stroke-linecap="butt"/>
<path d="M350,1237.5 L365.8,1237.5 C369.8,1237.5 368.8,1248 374.8,1248 L400.2,1248 C406.2,1248 405.2,1237.5 409.2,1237.5 L423,1237.5" fill="none" stroke="#000" stroke-width="2"/>
<ellipse cx="381.8" cy="1239" rx="4" ry="8" fill="none" stroke="#000" stroke-width="1.9"/>
<ellipse cx="393.2" cy="1239" rx="4" ry="8" fill="none" stroke="#000" stroke-width="1.9"/>
<line x1="455" y1="1200.4" x2="482.4" y2="1206.4" stroke="#000" stroke-width="3.6" stroke-linecap="round"/>
<rect x="537.8" y="1145.4" width="2" height="4" fill="#fff"/>
<line x1="535.6" y1="1137.9" x2="535.6" y2="1156.9" stroke="#000" stroke-width="4.3" stroke-linecap="butt"/>
<line x1="542" y1="1137.9" x2="542" y2="1156.9" stroke="#000" stroke-width="4.3" stroke-linecap="butt"/>
<line x1="528.3" y1="1136.9" x2="550.8" y2="1159.4" stroke="#000" stroke-width="1.9" stroke-linecap="butt"/>
<line x1="525.3" y1="1139.9" x2="531.3" y2="1133.9" stroke="#000" stroke-width="2" stroke-linecap="butt"/>
<rect x="537.1" y="1175.8" width="1.7" height="4" fill="#fff"/>
<line x1="535" y1="1168.8" x2="535" y2="1186.8" stroke="#000" stroke-width="4.2" stroke-linecap="butt"/>
<line x1="541" y1="1168.8" x2="541" y2="1186.8" stroke="#000" stroke-width="4.2" stroke-linecap="butt"/>
<path d="M438.8,1237.5 L469.5,1237.5 C473.5,1237.5 472.5,1248 478.5,1248 L515.5,1248 C521.5,1248 520.5,1237.5 524.5,1237.5 L540,1237.5" fill="none" stroke="#000" stroke-width="2"/>
<ellipse cx="485.5" cy="1239" rx="4" ry="8" fill="none" stroke="#000" stroke-width="1.9"/>
<ellipse cx="497" cy="1239" rx="4" ry="8" fill="none" stroke="#000" stroke-width="1.9"/>
<ellipse cx="508.5" cy="1239" rx="4" ry="8" fill="none" stroke="#000" stroke-width="1.9"/>
<path d="M540,1237.5 L553.8,1237.5 C557.8,1237.5 556.8,1248 562.8,1248 L611.2,1248 C617.2,1248 616.2,1237.5 620.2,1237.5 L635.6,1237.5" fill="none" stroke="#000" stroke-width="2"/>
<ellipse cx="569.8" cy="1239" rx="4" ry="8" fill="none" stroke="#000" stroke-width="1.9"/>
<ellipse cx="581.2" cy="1239" rx="4" ry="8" fill="none" stroke="#000" stroke-width="1.9"/>
<ellipse cx="592.8" cy="1239" rx="4" ry="8" fill="none" stroke="#000" stroke-width="1.9"/>
<ellipse cx="604.2" cy="1239" rx="4" ry="8" fill="none" stroke="#000" stroke-width="1.9"/>
<line x1="578" y1="1200" x2="605.4" y2="1206" stroke="#000" stroke-width="3.6" stroke-linecap="round"/>
<rect x="324.9" y="1266.4" width="1.7" height="4" fill="#fff"/>
<line x1="322.8" y1="1259.4" x2="322.8" y2="1277.4" stroke="#000" stroke-width="4.2" stroke-linecap="butt"/>
<line x1="328.6" y1="1259.4" x2="328.6" y2="1277.4" stroke="#000" stroke-width="4.2" stroke-linecap="butt"/>
<path d="M329,1268.4 L365.8,1268.4 C369.8,1268.4 368.8,1257.9 374.8,1257.9 L400.2,1257.9 C406.2,1257.9 405.2,1268.4 409.2,1268.4 L454.3,1268.4" fill="none" stroke="#000" stroke-width="2"/>
<ellipse cx="381.8" cy="1266.9" rx="4" ry="8" fill="none" stroke="#000" stroke-width="1.9"/>
<ellipse cx="393.2" cy="1266.9" rx="4" ry="8" fill="none" stroke="#000" stroke-width="1.9"/>
<path d="M454.3,1267.7 L469.5,1267.7 C473.5,1267.7 472.5,1257.2 478.5,1257.2 L515.5,1257.2 C521.5,1257.2 520.5,1267.7 524.5,1267.7 L540,1267.7" fill="none" stroke="#000" stroke-width="2"/>
<ellipse cx="485.5" cy="1266.2" rx="4" ry="8" fill="none" stroke="#000" stroke-width="1.9"/>
<ellipse cx="497" cy="1266.2" rx="4" ry="8" fill="none" stroke="#000" stroke-width="1.9"/>
<ellipse cx="508.5" cy="1266.2" rx="4" ry="8" fill="none" stroke="#000" stroke-width="1.9"/>
<path d="M540,1267.5 L553.8,1267.5 C557.8,1267.5 556.8,1257 562.8,1257 L611.2,1257 C617.2,1257 616.2,1267.5 620.2,1267.5 L635.6,1267.5" fill="none" stroke="#000" stroke-width="2"/>
<ellipse cx="569.8" cy="1266" rx="4" ry="8" fill="none" stroke="#000" stroke-width="1.9"/>
<ellipse cx="581.2" cy="1266" rx="4" ry="8" fill="none" stroke="#000" stroke-width="1.9"/>
<ellipse cx="592.8" cy="1266" rx="4" ry="8" fill="none" stroke="#000" stroke-width="1.9"/>
<ellipse cx="604.2" cy="1266" rx="4" ry="8" fill="none" stroke="#000" stroke-width="1.9"/>
<line x1="526.2" y1="1290.8" x2="552.8" y2="1296.8" stroke="#000" stroke-width="3.6" stroke-linecap="round"/>
<rect x="368.4" y="1296.5" width="1.7" height="4" fill="#fff"/>
<line x1="366.2" y1="1289.5" x2="366.2" y2="1307.5" stroke="#000" stroke-width="4.2" stroke-linecap="butt"/>
<line x1="372.1" y1="1289.5" x2="372.1" y2="1307.5" stroke="#000" stroke-width="4.2" stroke-linecap="butt"/>
<rect x="672.8" y="1321.4" width="29.7" height="13" fill="#fff" stroke="#000" stroke-width="2.4"/>
<rect x="526.7" y="1351" width="27.2" height="14" fill="#fff" stroke="#000" stroke-width="2.4"/>
<rect x="613.4" y="1355.5" width="1.7" height="4" fill="#fff"/>
<line x1="611.3" y1="1349" x2="611.3" y2="1366" stroke="#000" stroke-width="4.2" stroke-linecap="butt"/>
<line x1="617.2" y1="1349" x2="617.2" y2="1366" stroke="#000" stroke-width="4.2" stroke-linecap="butt"/>
<rect x="215.8" y="1374.8" width="115.2" height="60.8" rx="31.9" ry="30.4" fill="none" stroke="#000" stroke-width="4"/>
<line x1="215.8" y1="1418.8" x2="239.3" y2="1418.8" stroke="#000" stroke-width="2" stroke-linecap="butt"/>
<line x1="239.3" y1="1409" x2="239.3" y2="1427.5" stroke="#000" stroke-width="3.4" stroke-linecap="butt"/>
<line x1="273.3" y1="1381.7" x2="273.3" y2="1398.5" stroke="#000" stroke-width="3.4" stroke-linecap="butt"/>
<line x1="252.8" y1="1408" x2="252.8" y2="1430" stroke="#000" stroke-width="1.8" stroke-dasharray="3,3"/>
<line x1="265.2" y1="1404" x2="265.2" y2="1430" stroke="#000" stroke-width="1.8" stroke-dasharray="3,3"/>
<line x1="278.8" y1="1404" x2="278.8" y2="1430" stroke="#000" stroke-width="1.8" stroke-dasharray="3,3"/>
<line x1="265.2" y1="1404" x2="292" y2="1404" stroke="#000" stroke-width="1.6" stroke-linecap="butt"/>
<line x1="252.8" y1="1430" x2="278.8" y2="1430" stroke="#000" stroke-width="1.6" stroke-linecap="butt"/>
<line x1="292.3" y1="1376" x2="292.3" y2="1436" stroke="#000" stroke-width="1.8" stroke-dasharray="4,3"/>
<rect x="672.8" y="1396" width="29.7" height="13.4" fill="#fff" stroke="#000" stroke-width="2.4"/>
<rect x="634.4" y="1424.6" width="4" height="1.7" fill="#fff"/>
<line x1="626.4" y1="1422.5" x2="646.4" y2="1422.5" stroke="#000" stroke-width="4.2" stroke-linecap="butt"/>
<line x1="626.4" y1="1428.5" x2="646.4" y2="1428.5" stroke="#000" stroke-width="4.2" stroke-linecap="butt"/>
<rect x="672.8" y="1440.8" width="29.7" height="13.2" fill="#fff" stroke="#000" stroke-width="2.4"/>
<rect x="672.8" y="1471.4" width="29.7" height="13" fill="#fff" stroke="#000" stroke-width="2.4"/>
<rect x="481.7" y="1502.7" width="29.1" height="13.6" fill="#fff" stroke="#000" stroke-width="2.4"/>
<rect x="290.3" y="1526.4" width="4" height="1.7" fill="#fff"/>
<line x1="282.3" y1="1524.3" x2="302.3" y2="1524.3" stroke="#000" stroke-width="4.2" stroke-linecap="butt"/>
<line x1="282.3" y1="1530.2" x2="302.3" y2="1530.2" stroke="#000" stroke-width="4.2" stroke-linecap="butt"/>
<rect x="383.6" y="1539" width="9.8" height="18" fill="#000"/>
<rect x="388.1" y="1542" width="0.8" height="12" fill="#fff"/>
<line x1="373.5" y1="1533.6" x2="401.8" y2="1562" stroke="#000" stroke-width="2.2" stroke-linecap="butt"/>
<line x1="373.5" y1="1533.6" x2="382.5" y2="1542.4" stroke="#000" stroke-width="3.6" stroke-linecap="butt"/>
<rect x="634.3" y="1562.9" width="4" height="1.7" fill="#fff"/>
<line x1="626.8" y1="1560.8" x2="645.8" y2="1560.8" stroke="#000" stroke-width="4.2" stroke-linecap="butt"/>
<line x1="626.8" y1="1566.8" x2="645.8" y2="1566.8" stroke="#000" stroke-width="4.2" stroke-linecap="butt"/>
<rect x="493.5" y="1581.5" width="2" height="4" fill="#fff"/>
<line x1="491.3" y1="1574" x2="491.3" y2="1593" stroke="#000" stroke-width="4.3" stroke-linecap="butt"/>
<line x1="497.7" y1="1574" x2="497.7" y2="1593" stroke="#000" stroke-width="4.3" stroke-linecap="butt"/>
<line x1="484" y1="1573" x2="506.5" y2="1595.5" stroke="#000" stroke-width="1.9" stroke-linecap="butt"/>
<line x1="481" y1="1576" x2="487" y2="1570" stroke="#000" stroke-width="2" stroke-linecap="butt"/>
<line x1="532.5" y1="1628" x2="538.5" y2="1601.5" stroke="#000" stroke-width="3.6" stroke-linecap="round"/>
<rect x="588.4" y="1642.4" width="2" height="4" fill="#fff"/>
<line x1="586.2" y1="1634.9" x2="586.2" y2="1653.9" stroke="#000" stroke-width="4.3" stroke-linecap="butt"/>
<line x1="592.6" y1="1634.9" x2="592.6" y2="1653.9" stroke="#000" stroke-width="4.3" stroke-linecap="butt"/>
<line x1="578.9" y1="1633.9" x2="601.4" y2="1656.4" stroke="#000" stroke-width="1.9" stroke-linecap="butt"/>
<line x1="575.9" y1="1636.9" x2="581.9" y2="1630.9" stroke="#000" stroke-width="2" stroke-linecap="butt"/>
<line x1="285.3" y1="1632" x2="291.3" y2="1658.5" stroke="#000" stroke-width="3.6" stroke-linecap="round"/>
<path d="M456,1674.3 L470,1674.3 C474,1674.3 473,1663.8 479,1663.8 L516,1663.8 C522,1663.8 521,1674.3 525,1674.3 L539.5,1674.3" fill="none" stroke="#000" stroke-width="2"/>
<ellipse cx="486" cy="1672.8" rx="4" ry="8" fill="none" stroke="#000" stroke-width="1.9"/>
<ellipse cx="497.5" cy="1672.8" rx="4" ry="8" fill="none" stroke="#000" stroke-width="1.9"/>
<ellipse cx="509" cy="1672.8" rx="4" ry="8" fill="none" stroke="#000" stroke-width="1.9"/>
<path d="M539.5,1674.3 L554.8,1674.3 C558.8,1674.3 557.8,1663.8 563.8,1663.8 L612.2,1663.8 C618.2,1663.8 617.2,1674.3 621.2,1674.3 L636.3,1674.3" fill="none" stroke="#000" stroke-width="2"/>
<ellipse cx="570.8" cy="1672.8" rx="4" ry="8" fill="none" stroke="#000" stroke-width="1.9"/>
<ellipse cx="582.2" cy="1672.8" rx="4" ry="8" fill="none" stroke="#000" stroke-width="1.9"/>
<ellipse cx="593.8" cy="1672.8" rx="4" ry="8" fill="none" stroke="#000" stroke-width="1.9"/>
<ellipse cx="605.2" cy="1672.8" rx="4" ry="8" fill="none" stroke="#000" stroke-width="1.9"/>
<path d="M292.3,1675.5 L366.2,1675.5 C370.2,1675.5 369.2,1665 375.2,1665 L400.8,1665 C406.8,1665 405.8,1675.5 409.8,1675.5 L424.4,1675.5" fill="none" stroke="#000" stroke-width="2"/>
<ellipse cx="382.2" cy="1674" rx="4" ry="8" fill="none" stroke="#000" stroke-width="1.9"/>
<ellipse cx="393.8" cy="1674" rx="4" ry="8" fill="none" stroke="#000" stroke-width="1.9"/>
<rect x="383.6" y="1725.4" width="9.8" height="18" fill="#000"/>
<rect x="388.1" y="1728.4" width="0.8" height="12" fill="#fff"/>
<line x1="377.5" y1="1723.4" x2="401.5" y2="1747.4" stroke="#000" stroke-width="2.2" stroke-linecap="butt"/>
<line x1="374.5" y1="1726.4" x2="380.5" y2="1720.4" stroke="#000" stroke-width="2.6" stroke-linecap="butt"/>
<rect x="574" y="1727.3" width="30" height="13.4" fill="#fff" stroke="#000" stroke-width="2.4"/>
<circle cx="688.6" cy="1733.4" r="14.7" fill="#000"/>
<g clip-path="url(#eye)"><rect x="677" y="1726.9" width="23" height="4.1" fill="#fff"/><rect x="677" y="1736.9" width="23" height="4.1" fill="#fff"/></g>
<rect x="218.3" y="1825" width="114.7" height="61.4" rx="32.2" ry="30.7" fill="none" stroke="#000" stroke-width="4"/>
<line x1="218.3" y1="1855.6" x2="238" y2="1855.6" stroke="#000" stroke-width="2" stroke-linecap="butt"/>
<line x1="238" y1="1847" x2="238" y2="1865.4" stroke="#000" stroke-width="3.4" stroke-linecap="butt"/>
<line x1="259.2" y1="1833.4" x2="259.2" y2="1875.8" stroke="#000" stroke-width="2.6" stroke-dasharray="7,3.5"/>
<line x1="254.7" y1="1832.4" x2="260.2" y2="1832.4" stroke="#000" stroke-width="1.8" stroke-linecap="butt"/>
<line x1="254.7" y1="1875.8" x2="260.2" y2="1875.8" stroke="#000" stroke-width="1.8" stroke-linecap="butt"/>
<line x1="275.6" y1="1834.4" x2="275.6" y2="1869.8" stroke="#000" stroke-width="2.4" stroke-dasharray="7,3.5"/>
<path d="M271.1,1832.4 L275.6,1834.4 M275.6,1869.8 L271.6,1875.3" fill="none" stroke="#000" stroke-width="1.8"/>
<line x1="293" y1="1833.4" x2="293" y2="1886" stroke="#000" stroke-width="2.6" stroke-dasharray="7,3.5"/>
<rect x="673.3" y="1787.9" width="30.6" height="12.7" fill="#fff" stroke="#000" stroke-width="2.4"/>
<polyline points="683.8,1773.6 670.6,1780.2 685.2,1784.6" fill="none" stroke="#000" stroke-width="1.8"/>
<rect x="673.3" y="1757.2" width="31.1" height="12.5" fill="#fff" stroke="#000" stroke-width="2.4"/>
<rect x="682.3" y="1815.3" width="8.1" height="18.4" fill="#000"/>
<rect x="685.9" y="1818" width="0.9" height="13" fill="#fff"/>
<rect x="771.3" y="1819.6" width="4" height="1.7" fill="#fff"/>
<line x1="763.3" y1="1817.5" x2="783.3" y2="1817.5" stroke="#000" stroke-width="4.2" stroke-linecap="butt"/>
<line x1="763.3" y1="1823.5" x2="783.3" y2="1823.5" stroke="#000" stroke-width="4.2" stroke-linecap="butt"/>
<rect x="673.3" y="1848.3" width="30.6" height="12.5" fill="#fff" stroke="#000" stroke-width="2.4"/>
<rect x="634.7" y="1887.7" width="4" height="1.7" fill="#fff"/>
<line x1="627.2" y1="1885.6" x2="646.2" y2="1885.6" stroke="#000" stroke-width="4.2" stroke-linecap="butt"/>
<line x1="627.2" y1="1891.5" x2="646.2" y2="1891.5" stroke="#000" stroke-width="4.2" stroke-linecap="butt"/>
<rect x="383.7" y="1915" width="9.8" height="18" fill="#000"/>
<rect x="388.2" y="1918" width="0.8" height="12" fill="#fff"/>
<line x1="373.6" y1="1909.6" x2="401.9" y2="1938" stroke="#000" stroke-width="2.2" stroke-linecap="butt"/>
<line x1="373.6" y1="1909.6" x2="382.6" y2="1918.4" stroke="#000" stroke-width="3.6" stroke-linecap="butt"/>
<rect x="635" y="1938.4" width="4" height="1.7" fill="#fff"/>
<line x1="627.5" y1="1936.3" x2="646.5" y2="1936.3" stroke="#000" stroke-width="4.2" stroke-linecap="butt"/>
<line x1="627.5" y1="1942.2" x2="646.5" y2="1942.2" stroke="#000" stroke-width="4.2" stroke-linecap="butt"/>
<rect x="493.3" y="1960" width="2" height="4" fill="#fff"/>
<line x1="491.1" y1="1952.5" x2="491.1" y2="1971.5" stroke="#000" stroke-width="4.3" stroke-linecap="butt"/>
<line x1="497.5" y1="1952.5" x2="497.5" y2="1971.5" stroke="#000" stroke-width="4.3" stroke-linecap="butt"/>
<line x1="483.8" y1="1951.5" x2="506.3" y2="1974" stroke="#000" stroke-width="1.9" stroke-linecap="butt"/>
<line x1="480.8" y1="1954.5" x2="486.8" y2="1948.5" stroke="#000" stroke-width="2" stroke-linecap="butt"/>
<rect x="319.3" y="1990.5" width="1.7" height="4" fill="#fff"/>
<line x1="317.2" y1="1983.5" x2="317.2" y2="2001.5" stroke="#000" stroke-width="4.2" stroke-linecap="butt"/>
<line x1="323.1" y1="1983.5" x2="323.1" y2="2001.5" stroke="#000" stroke-width="4.2" stroke-linecap="butt"/>
<rect x="383.7" y="1983.5" width="9.8" height="18" fill="#000"/>
<rect x="388.2" y="1986.5" width="0.8" height="12" fill="#fff"/>
<line x1="377.6" y1="1981.5" x2="401.6" y2="2005.5" stroke="#000" stroke-width="2.2" stroke-linecap="butt"/>
<line x1="374.6" y1="1984.5" x2="380.6" y2="1978.5" stroke="#000" stroke-width="2.6" stroke-linecap="butt"/>
<line x1="534.9" y1="2035.6" x2="540.9" y2="2007" stroke="#000" stroke-width="3.6" stroke-linecap="round"/>
<rect x="590" y="2048" width="2" height="4" fill="#fff"/>
<line x1="587.8" y1="2040.5" x2="587.8" y2="2059.5" stroke="#000" stroke-width="4.3" stroke-linecap="butt"/>
<line x1="594.2" y1="2040.5" x2="594.2" y2="2059.5" stroke="#000" stroke-width="4.3" stroke-linecap="butt"/>
<line x1="580.5" y1="2039.5" x2="603" y2="2062" stroke="#000" stroke-width="1.9" stroke-linecap="butt"/>
<line x1="577.5" y1="2042.5" x2="583.5" y2="2036.5" stroke="#000" stroke-width="2" stroke-linecap="butt"/>
<line x1="309.4" y1="2076" x2="336" y2="2082" stroke="#000" stroke-width="3.6" stroke-linecap="round"/>
<path d="M352.8,2082.2 L367.2,2082.2 C371.2,2082.2 370.2,2092.7 376.2,2092.7 L401.8,2092.7 C407.8,2092.7 406.8,2082.2 410.8,2082.2 L427,2082.2" fill="none" stroke="#000" stroke-width="2"/>
<ellipse cx="383.2" cy="2083.7" rx="4" ry="8" fill="none" stroke="#000" stroke-width="1.9"/>
<ellipse cx="394.8" cy="2083.7" rx="4" ry="8" fill="none" stroke="#000" stroke-width="1.9"/>
<path d="M457,2080.5 L471.5,2080.5 C475.5,2080.5 474.5,2091 480.5,2091 L517.5,2091 C523.5,2091 522.5,2080.5 526.5,2080.5 L541.2,2080.5" fill="none" stroke="#000" stroke-width="2"/>
<ellipse cx="487.5" cy="2082" rx="4" ry="8" fill="none" stroke="#000" stroke-width="1.9"/>
<ellipse cx="499" cy="2082" rx="4" ry="8" fill="none" stroke="#000" stroke-width="1.9"/>
<ellipse cx="510.5" cy="2082" rx="4" ry="8" fill="none" stroke="#000" stroke-width="1.9"/>
<path d="M541.2,2080 L556.8,2080 C560.8,2080 559.8,2090.5 565.8,2090.5 L614.2,2090.5 C620.2,2090.5 619.2,2080 623.2,2080 L637,2080" fill="none" stroke="#000" stroke-width="2"/>
<ellipse cx="572.8" cy="2081.5" rx="4" ry="8" fill="none" stroke="#000" stroke-width="1.9"/>
<ellipse cx="584.2" cy="2081.5" rx="4" ry="8" fill="none" stroke="#000" stroke-width="1.9"/>
<ellipse cx="595.8" cy="2081.5" rx="4" ry="8" fill="none" stroke="#000" stroke-width="1.9"/>
<ellipse cx="607.2" cy="2081.5" rx="4" ry="8" fill="none" stroke="#000" stroke-width="1.9"/>
<rect x="676" y="2074.1" width="29" height="13.5" fill="#fff" stroke="#000" stroke-width="2.4"/>
<path d="M505,2110.5 L514.5,2110.5 C518.5,2110.5 517.5,2100 523.5,2100 L560.5,2100 C566.5,2100 565.5,2110.5 569.5,2110.5 L580,2110.5" fill="none" stroke="#000" stroke-width="2"/>
<ellipse cx="530.5" cy="2109" rx="4" ry="8" fill="none" stroke="#000" stroke-width="1.9"/>
<ellipse cx="542" cy="2109" rx="4" ry="8" fill="none" stroke="#000" stroke-width="1.9"/>
<ellipse cx="553.5" cy="2109" rx="4" ry="8" fill="none" stroke="#000" stroke-width="1.9"/>
<path d="M262.7,2142 L362.5,2142 C366.5,2142 365.5,2131.5 371.5,2131.5 L408.5,2131.5 C414.5,2131.5 413.5,2142 417.5,2142 L494,2142" fill="none" stroke="#000" stroke-width="2"/>
<ellipse cx="378.5" cy="2140.5" rx="4" ry="8" fill="none" stroke="#000" stroke-width="1.9"/>
<ellipse cx="390" cy="2140.5" rx="4" ry="8" fill="none" stroke="#000" stroke-width="1.9"/>
<ellipse cx="401.5" cy="2140.5" rx="4" ry="8" fill="none" stroke="#000" stroke-width="1.9"/>
<rect x="493.3" y="2139" width="2" height="4" fill="#fff"/>
<line x1="491.1" y1="2131.5" x2="491.1" y2="2150.5" stroke="#000" stroke-width="4.3" stroke-linecap="butt"/>
<line x1="497.5" y1="2131.5" x2="497.5" y2="2150.5" stroke="#000" stroke-width="4.3" stroke-linecap="butt"/>
<line x1="483.8" y1="2130.5" x2="506.3" y2="2153" stroke="#000" stroke-width="1.9" stroke-linecap="butt"/>
<line x1="480.8" y1="2133.5" x2="486.8" y2="2127.5" stroke="#000" stroke-width="2" stroke-linecap="butt"/>
<rect x="261.3" y="2160.5" width="4" height="1.7" fill="#fff"/>
<line x1="252.8" y1="2158.4" x2="273.8" y2="2158.4" stroke="#000" stroke-width="4.2" stroke-linecap="butt"/>
<line x1="252.8" y1="2164.2" x2="273.8" y2="2164.2" stroke="#000" stroke-width="4.2" stroke-linecap="butt"/>
<rect x="277.3" y="2174" width="30.7" height="12.3" fill="#fff" stroke="#000" stroke-width="2.4"/>
<line x1="263.8" y1="2214.5" x2="263.8" y2="2229" stroke="#000" stroke-width="4.2" stroke-linecap="butt"/>
<rect x="741.2" y="2159" width="4" height="1.7" fill="#fff"/>
<line x1="732.7" y1="2156.9" x2="753.7" y2="2156.9" stroke="#000" stroke-width="4.2" stroke-linecap="butt"/>
<line x1="732.7" y1="2162.8" x2="753.7" y2="2162.8" stroke="#000" stroke-width="4.2" stroke-linecap="butt"/>
<line x1="743.2" y1="2214" x2="743.2" y2="2226" stroke="#000" stroke-width="4.2" stroke-linecap="butt"/>
<line x1="791.4" y1="2228.4" x2="791.4" y2="2260.7" stroke="#000" stroke-width="2.2" stroke-linecap="butt"/>
<line x1="796" y1="2232" x2="796" y2="2257" stroke="#000" stroke-width="2" stroke-linecap="butt"/>
<line x1="800" y1="2236" x2="800" y2="2252" stroke="#000" stroke-width="2" stroke-linecap="butt"/>
<rect x="759" y="345.7" width="14" height="29.3" fill="#fff" stroke="#000" stroke-width="2.4"/>
<rect x="916.2" y="277" width="9.2" height="18.4" fill="#000"/>
<rect x="920.3" y="280" width="1" height="12.5" fill="#fff"/>
<line x1="1013" y1="331.5" x2="1013" y2="386" stroke="#000" stroke-width="2.2" stroke-linecap="butt"/>
<rect x="916.9" y="424" width="9.8" height="19" fill="#000"/>
<rect x="921.3" y="427" width="1" height="13" fill="#fff"/>
<circle cx="924.7" cy="585.4" r="29.5" fill="none" stroke="#000" stroke-width="4"/>
<line x1="903" y1="563" x2="911" y2="572" stroke="#000" stroke-width="2" stroke-linecap="butt"/>
<line x1="906" y1="578" x2="918" y2="567" stroke="#000" stroke-width="3.2" stroke-linecap="butt"/>
<line x1="903" y1="608" x2="911" y2="599" stroke="#000" stroke-width="2" stroke-linecap="butt"/>
<line x1="906" y1="593" x2="918" y2="604" stroke="#000" stroke-width="3.2" stroke-linecap="butt"/>
<line x1="887.6" y1="704" x2="1066.7" y2="704" stroke="#000" stroke-width="4.2" stroke-linecap="butt"/>
<rect x="958.8" y="718.8" width="30.8" height="13.2" fill="#fff" stroke="#000" stroke-width="2.4"/>
<line x1="984.3" y1="800.4" x2="1003.5" y2="821.5" stroke="#000" stroke-width="2.8" stroke-linecap="butt"/>
<rect x="1089.5" y="863.4" width="13.5" height="29.2" fill="#fff" stroke="#000" stroke-width="2.4"/>
<line x1="1088.6" y1="926" x2="1095.5" y2="950.5" stroke="#000" stroke-width="2.8" stroke-linecap="butt"/>
<rect x="1028.6" y="983" width="1.7" height="4" fill="#fff"/>
<line x1="1026.5" y1="975.5" x2="1026.5" y2="994.5" stroke="#000" stroke-width="4.2" stroke-linecap="butt"/>
<line x1="1032.5" y1="975.5" x2="1032.5" y2="994.5" stroke="#000" stroke-width="4.2" stroke-linecap="butt"/>
<rect x="1073.6" y="982.5" width="1.7" height="4" fill="#fff"/>
<line x1="1071.5" y1="975" x2="1071.5" y2="994" stroke="#000" stroke-width="4.2" stroke-linecap="butt"/>
<line x1="1077.5" y1="975" x2="1077.5" y2="994" stroke="#000" stroke-width="4.2" stroke-linecap="butt"/>
<line x1="1030" y1="997" x2="1047" y2="1017" stroke="#000" stroke-width="1.3" stroke-linecap="butt"/>
<line x1="1073" y1="997" x2="1061" y2="1015" stroke="#000" stroke-width="1.3" stroke-linecap="butt"/>
<path d="M1006,1023 L1006,1030.3 C1006,1034.3 996,1033.3 996,1039.3 L996,1076.3 C996,1082.3 1006,1081.3 1006,1085.3 L1006,1125" fill="none" stroke="#000" stroke-width="2"/>
<ellipse cx="1006" cy="1046.3" rx="7" ry="4" fill="none" stroke="#000" stroke-width="1.9"/>
<ellipse cx="1006" cy="1057.8" rx="7" ry="4" fill="none" stroke="#000" stroke-width="1.9"/>
<ellipse cx="1006" cy="1069.3" rx="7" ry="4" fill="none" stroke="#000" stroke-width="1.9"/>
<path d="M1097.7,1023 L1097.7,1030.3 C1097.7,1034.3 1107.7,1033.3 1107.7,1039.3 L1107.7,1076.3 C1107.7,1082.3 1097.7,1081.3 1097.7,1085.3 L1097.7,1125" fill="none" stroke="#000" stroke-width="2"/>
<ellipse cx="1097.7" cy="1046.3" rx="7" ry="4" fill="none" stroke="#000" stroke-width="1.9"/>
<ellipse cx="1097.7" cy="1057.8" rx="7" ry="4" fill="none" stroke="#000" stroke-width="1.9"/>
<ellipse cx="1097.7" cy="1069.3" rx="7" ry="4" fill="none" stroke="#000" stroke-width="1.9"/>
<line x1="1006" y1="1125" x2="1006" y2="1138.5" stroke="#000" stroke-width="3.8" stroke-linecap="butt"/>
<line x1="1097.7" y1="1125" x2="1097.7" y2="1138.5" stroke="#000" stroke-width="3.8" stroke-linecap="butt"/>
<circle cx="183" cy="210" r="3.9" fill="#000"/>
<circle cx="330" cy="210" r="3.9" fill="#000"/>
<circle cx="183" cy="245" r="3.9" fill="#000"/>
<circle cx="330" cy="245" r="3.9" fill="#000"/>
<circle cx="308" cy="333" r="4.4" fill="#000"/>
<circle cx="631.3" cy="331" r="3.9" fill="#000"/>
<circle cx="737.7" cy="330.5" r="3.9" fill="#000"/>
<circle cx="524" cy="377" r="3.9" fill="#000"/>
<circle cx="631.3" cy="375.6" r="3.9" fill="#000"/>
<circle cx="737.9" cy="375" r="3.9" fill="#000"/>
<circle cx="524" cy="405" r="3.9" fill="#000"/>
<circle cx="524" cy="436" r="3.9" fill="#000"/>
<circle cx="667.1" cy="404.5" r="3.9" fill="#000"/>
<circle cx="697.3" cy="404.5" r="3.4" fill="#fff" stroke="#000" stroke-width="1.8"/>
<circle cx="738" cy="404.3" r="3.9" fill="#000"/>
<circle cx="738.1" cy="435" r="3.9" fill="#000"/>
<circle cx="524" cy="450" r="3.4" fill="#fff" stroke="#000" stroke-width="1.8"/>
<circle cx="473.6" cy="467" r="3.9" fill="#000"/>
<circle cx="738.3" cy="466" r="3.9" fill="#000"/>
<circle cx="573.5" cy="524.5" r="3.9" fill="#000"/>
<circle cx="633.6" cy="524.3" r="3.9" fill="#000"/>
<circle cx="738.5" cy="524" r="3.9" fill="#000"/>
<circle cx="473.6" cy="541" r="3.9" fill="#000"/>
<circle cx="473.6" cy="573" r="3.4" fill="#fff" stroke="#000" stroke-width="1.8"/>
<circle cx="474.8" cy="691.8" r="3.9" fill="#000"/>
<circle cx="474.8" cy="720" r="3.9" fill="#000"/>
<circle cx="234.8" cy="527.6" r="3.9" fill="#000"/>
<circle cx="283" cy="588" r="4.4" fill="#000"/>
<circle cx="435.3" cy="586.4" r="3.9" fill="#000"/>
<circle cx="376.5" cy="625" r="3.9" fill="#000"/>
<circle cx="435.3" cy="625" r="3.9" fill="#000"/>
<circle cx="376.5" cy="654.8" r="3.9" fill="#000"/>
<circle cx="289" cy="656" r="3.9" fill="#000"/>
<circle cx="289" cy="685.7" r="3.9" fill="#000"/>
<circle cx="376.5" cy="684.4" r="3.9" fill="#000"/>
<circle cx="184.7" cy="722.7" r="3.9" fill="#000"/>
<circle cx="289" cy="722.2" r="3.9" fill="#000"/>
<circle cx="376.5" cy="721.5" r="3.9" fill="#000"/>
<circle cx="633.6" cy="583.5" r="3.9" fill="#000"/>
<circle cx="768" cy="583" r="3.9" fill="#000"/>
<circle cx="633.6" cy="614.8" r="3.9" fill="#000"/>
<circle cx="738.9" cy="614.8" r="3.9" fill="#000"/>
<circle cx="633.6" cy="652.6" r="3.9" fill="#000"/>
<circle cx="739.1" cy="652.6" r="3.9" fill="#000"/>
<circle cx="633.6" cy="690.9" r="3.9" fill="#000"/>
<circle cx="529" cy="692" r="3.9" fill="#000"/>
<circle cx="558.8" cy="692" r="3.4" fill="#fff" stroke="#000" stroke-width="1.8"/>
<circle cx="633.6" cy="720" r="3.9" fill="#000"/>
<circle cx="768.7" cy="719" r="3.9" fill="#000"/>
<circle cx="309.4" cy="858" r="4.4" fill="#000"/>
<circle cx="349.6" cy="858" r="3.9" fill="#000"/>
<circle cx="633.6" cy="780" r="3.9" fill="#000"/>
<circle cx="769.1" cy="778.5" r="3.9" fill="#000"/>
<circle cx="634" cy="818.5" r="3.9" fill="#000"/>
<circle cx="739.8" cy="818" r="3.9" fill="#000"/>
<circle cx="634" cy="855" r="3.9" fill="#000"/>
<circle cx="740" cy="855" r="3.9" fill="#000"/>
<circle cx="290" cy="964.3" r="3.9" fill="#000"/>
<circle cx="290" cy="991.4" r="3.9" fill="#000"/>
<circle cx="377.3" cy="991" r="3.9" fill="#000"/>
<circle cx="290" cy="1028.6" r="3.9" fill="#000"/>
<circle cx="376.6" cy="1028.3" r="3.9" fill="#000"/>
<circle cx="604.9" cy="974.6" r="3.9" fill="#000"/>
<circle cx="604.9" cy="945.3" r="3.4" fill="#fff" stroke="#000" stroke-width="1.8"/>
<circle cx="604.4" cy="989.3" r="3.9" fill="#000"/>
<circle cx="634" cy="931.4" r="3.9" fill="#000"/>
<circle cx="634.6" cy="974.6" r="3.9" fill="#000"/>
<circle cx="634.6" cy="945.8" r="3.4" fill="#fff" stroke="#000" stroke-width="1.8"/>
<circle cx="634.8" cy="989.4" r="3.9" fill="#000"/>
<circle cx="740.4" cy="930.6" r="3.9" fill="#000"/>
<circle cx="740.2" cy="899" r="3.9" fill="#000"/>
<circle cx="800.5" cy="989" r="3.9" fill="#000"/>
<circle cx="634.8" cy="1026.4" r="3.9" fill="#000"/>
<circle cx="770.4" cy="1025.4" r="3.9" fill="#000"/>
<circle cx="327.6" cy="1086" r="3.9" fill="#000"/>
<circle cx="438.8" cy="1086" r="3.9" fill="#000"/>
<circle cx="477" cy="1085.7" r="3.9" fill="#000"/>
<circle cx="575.8" cy="1085.7" r="4.6" fill="#000"/>
<circle cx="635.6" cy="1085.7" r="3.9" fill="#000"/>
<circle cx="260" cy="1119.5" r="3.9" fill="#000"/>
<circle cx="327.6" cy="1119" r="3.9" fill="#000"/>
<circle cx="438.8" cy="1119" r="3.9" fill="#000"/>
<circle cx="278.8" cy="1150.8" r="3.9" fill="#000"/>
<circle cx="308.4" cy="1150.8" r="3.4" fill="#fff" stroke="#000" stroke-width="1.8"/>
<circle cx="259.5" cy="1150.6" r="3.9" fill="#000"/>
<circle cx="259.5" cy="1178.3" r="3.9" fill="#000"/>
<circle cx="424" cy="1178.3" r="3.9" fill="#000"/>
<circle cx="424" cy="1207.4" r="3.9" fill="#000"/>
<circle cx="278.8" cy="1237.8" r="3.9" fill="#000"/>
<circle cx="308.4" cy="1237.8" r="3.4" fill="#fff" stroke="#000" stroke-width="1.8"/>
<circle cx="327.6" cy="1237.5" r="3.9" fill="#000"/>
<circle cx="438.8" cy="1207.4" r="3.9" fill="#000"/>
<circle cx="438.8" cy="1237.5" r="3.9" fill="#000"/>
<circle cx="454" cy="1207.4" r="3.9" fill="#000"/>
<circle cx="484.4" cy="1207.4" r="3.4" fill="#fff" stroke="#000" stroke-width="1.8"/>
<circle cx="575.8" cy="1147.4" r="3.9" fill="#000"/>
<circle cx="499.3" cy="1177.8" r="3.9" fill="#000"/>
<circle cx="540" cy="1237.5" r="3.9" fill="#000"/>
<circle cx="635.6" cy="1237.5" r="3.9" fill="#000"/>
<circle cx="577" cy="1207" r="3.9" fill="#000"/>
<circle cx="607.4" cy="1207" r="3.4" fill="#fff" stroke="#000" stroke-width="1.8"/>
<circle cx="635.6" cy="1206.7" r="3.9" fill="#000"/>
<circle cx="454.3" cy="1267.7" r="3.9" fill="#000"/>
<circle cx="635.6" cy="1267.2" r="3.9" fill="#000"/>
<circle cx="741.7" cy="1267" r="3.9" fill="#000"/>
<circle cx="525.2" cy="1297.8" r="3.9" fill="#000"/>
<circle cx="554.8" cy="1297.8" r="3.4" fill="#fff" stroke="#000" stroke-width="1.8"/>
<circle cx="260.2" cy="1329.4" r="3.9" fill="#000"/>
<circle cx="772" cy="1326" r="3.9" fill="#000"/>
<circle cx="292.3" cy="1359" r="3.9" fill="#000"/>
<circle cx="591.4" cy="1357.6" r="3.9" fill="#000"/>
<circle cx="636.4" cy="1357.3" r="3.9" fill="#000"/>
<circle cx="741.9" cy="1357" r="3.9" fill="#000"/>
<circle cx="309.6" cy="1405.2" r="4.4" fill="#000"/>
<circle cx="591.4" cy="1402.8" r="3.9" fill="#000"/>
<circle cx="742" cy="1402.8" r="3.9" fill="#000"/>
<circle cx="636.4" cy="1447" r="3.9" fill="#000"/>
<circle cx="772.4" cy="1447.8" r="3.9" fill="#000"/>
<circle cx="742.2" cy="1477.5" r="3.9" fill="#000"/>
<circle cx="292.3" cy="1509.6" r="3.9" fill="#000"/>
<circle cx="292.3" cy="1548.4" r="3.9" fill="#000"/>
<circle cx="636.3" cy="1547" r="3.9" fill="#000"/>
<circle cx="742.4" cy="1547" r="3.9" fill="#000"/>
<circle cx="292.3" cy="1585" r="3.9" fill="#000"/>
<circle cx="539.5" cy="1583.4" r="3.9" fill="#000"/>
<circle cx="636.3" cy="1582.8" r="3.9" fill="#000"/>
<circle cx="539.5" cy="1629" r="3.9" fill="#000"/>
<circle cx="539.5" cy="1599.5" r="3.4" fill="#fff" stroke="#000" stroke-width="1.8"/>
<circle cx="539.5" cy="1644.4" r="3.9" fill="#000"/>
<circle cx="636.3" cy="1644.4" r="3.9" fill="#000"/>
<circle cx="292.3" cy="1615.8" r="3.9" fill="#000"/>
<circle cx="292.3" cy="1631" r="3.9" fill="#000"/>
<circle cx="292.3" cy="1660.5" r="3.4" fill="#fff" stroke="#000" stroke-width="1.8"/>
<circle cx="292.3" cy="1675.5" r="3.9" fill="#000"/>
<circle cx="497" cy="1683.5" r="3.9" fill="#000"/>
<circle cx="539.5" cy="1674.3" r="3.9" fill="#000"/>
<circle cx="636.3" cy="1674.3" r="3.9" fill="#000"/>
<circle cx="424.4" cy="1734.6" r="3.9" fill="#000"/>
<circle cx="540.2" cy="1733.3" r="3.9" fill="#000"/>
<circle cx="773.3" cy="1733" r="3.9" fill="#000"/>
<circle cx="312" cy="1855.6" r="4.4" fill="#000"/>
<circle cx="351" cy="1854.3" r="3.9" fill="#000"/>
<circle cx="636.4" cy="1793.6" r="3.9" fill="#000"/>
<circle cx="773.3" cy="1793.6" r="3.9" fill="#000"/>
<circle cx="742.9" cy="1762" r="3.9" fill="#000"/>
<circle cx="743.1" cy="1823.3" r="3.9" fill="#000"/>
<circle cx="636.7" cy="1854" r="3.9" fill="#000"/>
<circle cx="743.2" cy="1854" r="3.9" fill="#000"/>
<circle cx="293" cy="1924.7" r="3.9" fill="#000"/>
<circle cx="636.7" cy="1922.8" r="3.9" fill="#000"/>
<circle cx="743.4" cy="1922.8" r="3.9" fill="#000"/>
<circle cx="293.6" cy="1963" r="3.9" fill="#000"/>
<circle cx="542.2" cy="1960.8" r="3.9" fill="#000"/>
<circle cx="637.2" cy="1960.8" r="3.9" fill="#000"/>
<circle cx="352.8" cy="1993.3" r="3.9" fill="#000"/>
<circle cx="425.7" cy="1991.8" r="3.9" fill="#000"/>
<circle cx="541.2" cy="1991.4" r="3.9" fill="#000"/>
<circle cx="541.9" cy="2036.6" r="3.9" fill="#000"/>
<circle cx="541.9" cy="2005" r="3.4" fill="#fff" stroke="#000" stroke-width="1.8"/>
<circle cx="541.2" cy="2050" r="3.9" fill="#000"/>
<circle cx="637" cy="2050" r="3.9" fill="#000"/>
<circle cx="293.6" cy="2052.6" r="3.9" fill="#000"/>
<circle cx="308.4" cy="2083" r="3.9" fill="#000"/>
<circle cx="338" cy="2083" r="3.4" fill="#fff" stroke="#000" stroke-width="1.8"/>
<circle cx="352.8" cy="2082.2" r="3.9" fill="#000"/>
<circle cx="541.2" cy="2080" r="3.9" fill="#000"/>
<circle cx="637" cy="2079.5" r="3.9" fill="#000"/>
<circle cx="262.7" cy="2111.8" r="3.9" fill="#000"/>
<circle cx="743.9" cy="2109" r="3.9" fill="#000"/>
<circle cx="262.7" cy="2142" r="3.9" fill="#000"/>
<circle cx="744" cy="2139.5" r="3.9" fill="#000"/>
<circle cx="263.5" cy="2180" r="3.9" fill="#000"/>
<circle cx="744" cy="2176.8" r="3.9" fill="#000"/>
<circle cx="805" cy="2244" r="1.4" fill="#000"/>
<circle cx="765.5" cy="242" r="3.9" fill="#000"/>
<circle cx="1030" cy="285" r="3.9" fill="#000"/>
<circle cx="1030" cy="433" r="3.9" fill="#000"/>
<circle cx="857" cy="621" r="3.9" fill="#000"/>
<circle cx="1031" cy="575" r="3.9" fill="#000"/>
<circle cx="898.3" cy="673" r="3.9" fill="#000"/>
<circle cx="1004.4" cy="725" r="3.9" fill="#000"/>
<circle cx="910.2" cy="736.5" r="3.9" fill="#000"/>
<circle cx="933.2" cy="736.5" r="3.9" fill="#000"/>
<circle cx="1031.5" cy="736.5" r="3.9" fill="#000"/>
<circle cx="1054.6" cy="736.5" r="3.9" fill="#000"/>
<circle cx="975.7" cy="823" r="3.9" fill="#000"/>
<circle cx="984.3" cy="800.4" r="3.9" fill="#000"/>
<circle cx="1005.3" cy="823.5" r="3.4" fill="#fff" stroke="#000" stroke-width="1.8"/>
<circle cx="1004.6" cy="793" r="3.9" fill="#000"/>
<circle cx="1025.3" cy="802" r="3.9" fill="#000"/>
<circle cx="1034.9" cy="823.5" r="3.9" fill="#000"/>
<circle cx="1097" cy="922.9" r="3.9" fill="#000"/>
<circle cx="1097" cy="953.7" r="3.4" fill="#fff" stroke="#000" stroke-width="1.8"/>
<circle cx="1006" cy="985" r="3.9" fill="#000"/>
<circle cx="1051.7" cy="984" r="3.9" fill="#000"/>
<circle cx="1097.7" cy="984.4" r="3.9" fill="#000"/>
<circle cx="1062" cy="1440.8" r="0.9" fill="#000"/>
<circle cx="971.3" cy="1548.6" r="1.5" fill="#000"/>
<circle cx="1071.5" cy="1607.2" r="1.2" fill="#000"/>
<circle cx="980.7" cy="1674.8" r="1.5" fill="#000"/>
<circle cx="1212.4" cy="1691.4" r="1.3" fill="#000"/>
<circle cx="942.9" cy="1712.6" r="0.8" fill="#000"/>
<circle cx="950" cy="1816.7" r="0.8" fill="#000"/>
<circle cx="1231.3" cy="1899.4" r="1.3" fill="#000"/>
<circle cx="936.7" cy="2168.9" r="0.8" fill="#000"/>
<circle cx="1183" cy="352" r="1.2" fill="#000"/>
<circle cx="1141" cy="539" r="0.9" fill="#000"/>
<circle cx="1126" cy="570" r="0.9" fill="#000"/>
<circle cx="1231" cy="717" r="1.2" fill="#000"/>
<circle cx="873" cy="307" r="1.2" fill="#000"/>
<circle cx="825.4" cy="2116.4" r="1.2" fill="#000"/>
<circle cx="597.9" cy="2216.6" r="1.2" fill="#000"/>
<circle cx="762.6" cy="2121.5" r="0.9" fill="#000"/>
<circle cx="366.8" cy="2241" r="1.2" fill="#000"/>
<text x="0" y="0" transform="translate(176.5 322) rotate(-90)" style="font-family:'Liberation Sans',sans-serif;font-size:15.1px;font-style:italic;font-weight:bold;" textLength="90" lengthAdjust="spacingAndGlyphs">220V ; 33mA</text>
<text x="0" y="0" transform="translate(247.2 280) rotate(-90)" style="font-family:'Liberation Sans',sans-serif;font-size:16.7px;font-style:italic;font-weight:bold;" textLength="29.4" lengthAdjust="spacingAndGlyphs">2nF</text>
<text x="0" y="0" transform="translate(268.8 298.5) rotate(-90)" style="font-family:'Liberation Sans',sans-serif;font-size:16.8px;font-style:italic;font-weight:bold;" textLength="30.9" lengthAdjust="spacingAndGlyphs">240V</text>
<text x="0" y="0" transform="translate(331 305.2) rotate(-90)" style="font-family:'Liberation Sans',sans-serif;font-size:13.8px;font-style:italic;font-weight:bold;" textLength="20" lengthAdjust="spacingAndGlyphs">100</text>
<text x="0" y="0" transform="translate(347.9 303.7) rotate(-90)" style="font-family:'Liberation Sans',sans-serif;font-size:13.7px;font-style:italic;font-weight:bold;" textLength="12.3" lengthAdjust="spacingAndGlyphs">Ω</text>
<text x="0" y="0" transform="translate(455.6 335.5) rotate(180)" style="font-family:'Liberation Sans',sans-serif;font-size:15.8px;font-style:italic;font-weight:bold;" textLength="43.3" lengthAdjust="spacingAndGlyphs">37mA</text>
<text x="0" y="0" transform="translate(227.2 414.2) rotate(-90)" style="font-family:'Liberation Sans',sans-serif;font-size:17px;font-style:italic;font-weight:bold;" textLength="38.6" lengthAdjust="spacingAndGlyphs">AL 4</text>
<text x="0" y="0" transform="translate(421.6 401.9) rotate(-90)" style="font-family:'Liberation Sans',sans-serif;font-size:12.7px;font-style:italic;font-weight:bold;" textLength="6.2" lengthAdjust="spacingAndGlyphs">1</text>
<text x="0" y="0" transform="translate(440 409.6) rotate(-90)" style="font-family:'Liberation Sans',sans-serif;font-size:16.7px;font-style:italic;font-weight:bold;" textLength="20.1" lengthAdjust="spacingAndGlyphs">kΩ</text>
<text x="0" y="0" transform="translate(679.2 318.4) rotate(-90)" style="font-family:'Liberation Sans',sans-serif;font-size:15.3px;font-style:italic;font-weight:bold;" textLength="18.4" lengthAdjust="spacingAndGlyphs">175</text>
<text x="0" y="0" transform="translate(693.6 317.7) rotate(-90)" style="font-family:'Liberation Sans',sans-serif;font-size:15.2px;font-style:italic;font-weight:bold;" textLength="11.1" lengthAdjust="spacingAndGlyphs">Ω</text>
<text x="0" y="0" transform="translate(656 369.5) rotate(-90)" style="font-family:'Liberation Sans',sans-serif;font-size:17.7px;font-style:italic;font-weight:bold;" textLength="38" lengthAdjust="spacingAndGlyphs">25µF</text>
<text x="0" y="0" transform="translate(558 362) rotate(-90)" style="font-family:'Liberation Sans',sans-serif;font-size:16.8px;font-style:italic;font-weight:bold;" textLength="26.2" lengthAdjust="spacingAndGlyphs">3nF</text>
<text x="0" y="0" transform="translate(601 430) rotate(-90)" style="font-family:'Liberation Sans',sans-serif;font-size:12.3px;font-style:italic;font-weight:bold;" textLength="8" lengthAdjust="spacingAndGlyphs">1</text>
<text x="0" y="0" transform="translate(618 434.6) rotate(-90)" style="font-family:'Liberation Sans',sans-serif;font-size:12.3px;font-style:italic;font-weight:bold;" textLength="21.6" lengthAdjust="spacingAndGlyphs">kΩ</text>
<text x="0" y="0" transform="translate(697 459) rotate(-90)" style="font-family:'Liberation Sans',sans-serif;font-size:17px;font-style:italic;font-weight:bold;" textLength="9" lengthAdjust="spacingAndGlyphs">2</text>
<text x="0" y="0" transform="translate(712.3 462.3) rotate(-90)" style="font-family:'Liberation Sans',sans-serif;font-size:14.8px;font-style:italic;font-weight:bold;" textLength="23.3" lengthAdjust="spacingAndGlyphs">MΩ</text>
<text x="0" y="0" transform="translate(502.5 456) rotate(-90)" style="font-family:'Liberation Sans',sans-serif;font-size:14.8px;font-style:italic;font-weight:bold;" textLength="38.4" lengthAdjust="spacingAndGlyphs">20nF</text>
<text x="0" y="0" transform="translate(531.4 496.3) rotate(-90)" style="font-family:'Liberation Sans',sans-serif;font-size:13.4px;font-style:italic;font-weight:bold;" textLength="18.5" lengthAdjust="spacingAndGlyphs">0,5</text>
<text x="0" y="0" transform="translate(548.8 504) rotate(-90)" style="font-family:'Liberation Sans',sans-serif;font-size:17px;font-style:italic;font-weight:bold;" textLength="24.7" lengthAdjust="spacingAndGlyphs">MΩ</text>
<text x="0" y="0" transform="translate(692.3 514.8) rotate(-90)" style="font-family:'Liberation Sans',sans-serif;font-size:14.8px;font-style:italic;font-weight:bold;" textLength="17" lengthAdjust="spacingAndGlyphs">0,5</text>
<text x="0" y="0" transform="translate(710.8 521) rotate(-90)" style="font-family:'Liberation Sans',sans-serif;font-size:16.8px;font-style:italic;font-weight:bold;" textLength="24.7" lengthAdjust="spacingAndGlyphs">MΩ</text>
<text x="0" y="0" transform="translate(539.5 551.9) rotate(-90)" style="font-family:'Liberation Sans',sans-serif;font-size:13.6px;font-style:italic;font-weight:bold;" textLength="9.3" lengthAdjust="spacingAndGlyphs">1</text>
<text x="0" y="0" transform="translate(555 564) rotate(-90)" style="font-family:'Liberation Sans',sans-serif;font-size:17px;font-style:italic;font-weight:bold;" textLength="24.5" lengthAdjust="spacingAndGlyphs">MΩ</text>
<text x="0" y="0" transform="translate(599.7 558) rotate(-90)" style="font-family:'Liberation Sans',sans-serif;font-size:14.8px;font-style:italic;font-weight:bold;" textLength="20" lengthAdjust="spacingAndGlyphs">0,5</text>
<text x="0" y="0" transform="translate(616.7 561) rotate(-90)" style="font-family:'Liberation Sans',sans-serif;font-size:19px;font-style:italic;font-weight:bold;" textLength="24.6" lengthAdjust="spacingAndGlyphs">MΩ</text>
<text x="0" y="0" transform="translate(681.5 575) rotate(-90)" style="font-family:'Liberation Sans',sans-serif;font-size:17.1px;font-style:italic;font-weight:bold;" textLength="17" lengthAdjust="spacingAndGlyphs">50</text>
<text x="0" y="0" transform="translate(695.4 576.5) rotate(-90)" style="font-family:'Liberation Sans',sans-serif;font-size:14.8px;font-style:italic;font-weight:bold;" textLength="20" lengthAdjust="spacingAndGlyphs">kΩ</text>
<text x="0" y="0" transform="translate(424.1 500.5) rotate(-90)" style="font-family:'Liberation Sans',sans-serif;font-size:13.4px;font-style:italic;font-weight:bold;" textLength="18.5" lengthAdjust="spacingAndGlyphs">0,2</text>
<text x="0" y="0" transform="translate(441.5 505.4) rotate(-90)" style="font-family:'Liberation Sans',sans-serif;font-size:17.1px;font-style:italic;font-weight:bold;" textLength="25.9" lengthAdjust="spacingAndGlyphs">MΩ</text>
<text x="0" y="0" transform="translate(790 371) rotate(-90)" style="font-family:'Liberation Sans',sans-serif;font-size:15.1px;font-style:italic;font-weight:bold;" textLength="29" lengthAdjust="spacingAndGlyphs">1kΩ</text>
<text x="0" y="0" transform="translate(924.2 334) rotate(-90)" style="font-family:'Liberation Sans',sans-serif;font-size:16.7px;font-style:italic;font-weight:bold;" textLength="32" lengthAdjust="spacingAndGlyphs">16µF</text>
<text x="0" y="0" transform="translate(924.2 416) rotate(-90)" style="font-family:'Liberation Sans',sans-serif;font-size:16.7px;font-style:italic;font-weight:bold;" textLength="35.5" lengthAdjust="spacingAndGlyphs">32µF</text>
<text x="0" y="0" transform="translate(1006 382) rotate(-90)" style="font-family:'Liberation Sans',sans-serif;font-size:16.4px;font-style:italic;font-weight:bold;" textLength="34" lengthAdjust="spacingAndGlyphs">Feld</text>
<text x="0" y="0" transform="translate(886.4 607.7) rotate(-90)" style="font-family:'Liberation Sans',sans-serif;font-size:20.3px;font-style:italic;font-weight:bold;" textLength="39.7" lengthAdjust="spacingAndGlyphs">AZ1</text>
<text x="0" y="0" transform="translate(1058 646) rotate(-90)" style="font-family:'Liberation Sans',sans-serif;font-size:16.8px;font-style:italic;font-weight:bold;" textLength="59.3" lengthAdjust="spacingAndGlyphs">H+AB2</text>
<text x="0" y="0" transform="translate(969 753.3) rotate(-90)" style="font-family:'Liberation Sans',sans-serif;font-size:13.7px;font-style:italic;font-weight:bold;" textLength="16" lengthAdjust="spacingAndGlyphs">0,5</text>
<text x="0" y="0" transform="translate(985 751) rotate(-90)" style="font-family:'Liberation Sans',sans-serif;font-size:15.1px;font-style:italic;font-weight:bold;" textLength="11.2" lengthAdjust="spacingAndGlyphs">A</text>
<text x="0" y="0" transform="translate(970.7 855) rotate(-90)" style="font-family:'Liberation Sans',sans-serif;font-size:14.7px;font-style:italic;font-weight:bold;" textLength="24" lengthAdjust="spacingAndGlyphs">240</text>
<text x="0" y="0" transform="translate(1031 858) rotate(-90)" style="font-family:'Liberation Sans',sans-serif;font-size:13px;font-style:italic;font-weight:bold;" textLength="19.4" lengthAdjust="spacingAndGlyphs">110</text>
<text x="0" y="0" transform="translate(1084 891.5) rotate(-90)" style="font-family:'Liberation Sans',sans-serif;font-size:16.4px;font-style:italic;font-weight:bold;" textLength="19.5" lengthAdjust="spacingAndGlyphs">1 A</text>
<text x="0" y="0" transform="translate(1060 1036) rotate(-90)" style="font-family:'Liberation Sans',sans-serif;font-size:19.2px;font-style:italic;font-weight:bold;" textLength="32" lengthAdjust="spacingAndGlyphs">10nF</text>
<text x="0" y="0" transform="translate(214.6 650) rotate(-90)" style="font-family:'Liberation Sans',sans-serif;font-size:17.2px;font-style:italic;font-weight:bold;" textLength="42" lengthAdjust="spacingAndGlyphs">100pF</text>
<text x="0" y="0" transform="translate(229 609) rotate(-90)" style="font-family:'Liberation Sans',sans-serif;font-size:18.5px;font-style:italic;font-weight:bold;" textLength="43" lengthAdjust="spacingAndGlyphs">AB 2</text>
<text x="0" y="0" transform="translate(332.8 642.5) rotate(-90)" style="font-family:'Liberation Sans',sans-serif;font-size:16.8px;font-style:italic;font-weight:bold;" textLength="21" lengthAdjust="spacingAndGlyphs">200</text>
<text x="0" y="0" transform="translate(349.1 642.5) rotate(-90)" style="font-family:'Liberation Sans',sans-serif;font-size:17.3px;font-style:italic;font-weight:bold;" textLength="19.8" lengthAdjust="spacingAndGlyphs">pF</text>
<text x="0" y="0" transform="translate(404.4 613) rotate(-90)" style="font-family:'Liberation Sans',sans-serif;font-size:15.2px;font-style:italic;font-weight:bold;" textLength="15" lengthAdjust="spacingAndGlyphs">40</text>
<text x="0" y="0" transform="translate(415.6 614) rotate(-90)" style="font-family:'Liberation Sans',sans-serif;font-size:11.8px;font-style:italic;font-weight:bold;" textLength="19.7" lengthAdjust="spacingAndGlyphs">pF</text>
<text x="0" y="0" transform="translate(403.1 687) rotate(-90)" style="font-family:'Liberation Sans',sans-serif;font-size:13.4px;font-style:italic;font-weight:bold;" textLength="18.6" lengthAdjust="spacingAndGlyphs">0,5</text>
<text x="0" y="0" transform="translate(421.7 690.6) rotate(-90)" style="font-family:'Liberation Sans',sans-serif;font-size:18.8px;font-style:italic;font-weight:bold;" textLength="24.6" lengthAdjust="spacingAndGlyphs">MΩ</text>
<text x="0" y="0" transform="translate(461.2 659.8) rotate(-90)" style="font-family:'Liberation Sans',sans-serif;font-size:18.5px;font-style:italic;font-weight:bold;" textLength="39.6" lengthAdjust="spacingAndGlyphs">20nF</text>
<text x="0" y="0" transform="translate(681 641.5) rotate(-90)" style="font-family:'Liberation Sans',sans-serif;font-size:17px;font-style:italic;font-weight:bold;" textLength="14.8" lengthAdjust="spacingAndGlyphs">18</text>
<text x="0" y="0" transform="translate(698.3 642.7) rotate(-90)" style="font-family:'Liberation Sans',sans-serif;font-size:20.3px;font-style:italic;font-weight:bold;" textLength="19.7" lengthAdjust="spacingAndGlyphs">kΩ</text>
<text x="0" y="0" transform="translate(615.6 648.9) rotate(-90)" style="font-family:'Liberation Sans',sans-serif;font-size:11.8px;font-style:italic;font-weight:bold;" textLength="37" lengthAdjust="spacingAndGlyphs">0,1µF</text>
<text x="0" y="0" transform="translate(660 690.9) rotate(-90)" style="font-family:'Liberation Sans',sans-serif;font-size:17px;font-style:italic;font-weight:bold;" textLength="34.6" lengthAdjust="spacingAndGlyphs">50nF</text>
<text x="0" y="0" transform="translate(679.8 708) rotate(-90)" style="font-family:'Liberation Sans',sans-serif;font-size:10.3px;font-style:italic;font-weight:bold;" textLength="6" lengthAdjust="spacingAndGlyphs">1</text>
<text x="0" y="0" transform="translate(694.6 710.6) rotate(-90)" style="font-family:'Liberation Sans',sans-serif;font-size:15.2px;font-style:italic;font-weight:bold;" textLength="19.7" lengthAdjust="spacingAndGlyphs">kΩ</text>
<text x="0" y="0" transform="translate(539 752.6) rotate(-90)" style="font-family:'Liberation Sans',sans-serif;font-size:15.2px;font-style:italic;font-weight:bold;" textLength="16.1" lengthAdjust="spacingAndGlyphs">30</text>
<text x="0" y="0" transform="translate(555 752.6) rotate(-90)" style="font-family:'Liberation Sans',sans-serif;font-size:16.8px;font-style:italic;font-weight:bold;" textLength="18.6" lengthAdjust="spacingAndGlyphs">kΩ</text>
<text x="0" y="0" transform="translate(679.8 768.6) rotate(-90)" style="font-family:'Liberation Sans',sans-serif;font-size:14.2px;font-style:italic;font-weight:bold;" textLength="14.8" lengthAdjust="spacingAndGlyphs">50</text>
<text x="0" y="0" transform="translate(693.3 770) rotate(-90)" style="font-family:'Liberation Sans',sans-serif;font-size:15.2px;font-style:italic;font-weight:bold;" textLength="20" lengthAdjust="spacingAndGlyphs">kΩ</text>
<text x="0" y="0" transform="translate(657.3 814.3) rotate(-90)" style="font-family:'Liberation Sans',sans-serif;font-size:13.3px;font-style:italic;font-weight:bold;" textLength="33.3" lengthAdjust="spacingAndGlyphs">0,1µF</text>
<text x="0" y="0" transform="translate(615.4 848.9) rotate(-90)" style="font-family:'Liberation Sans',sans-serif;font-size:13.2px;font-style:italic;font-weight:bold;" textLength="32.1" lengthAdjust="spacingAndGlyphs">10µF</text>
<text x="0" y="0" transform="translate(681 844) rotate(-90)" style="font-family:'Liberation Sans',sans-serif;font-size:15.2px;font-style:italic;font-weight:bold;" textLength="22.3" lengthAdjust="spacingAndGlyphs">350</text>
<text x="0" y="0" transform="translate(693.3 844) rotate(-90)" style="font-family:'Liberation Sans',sans-serif;font-size:13.4px;font-style:italic;font-weight:bold;" textLength="13.6" lengthAdjust="spacingAndGlyphs">Ω</text>
<text x="0" y="0" transform="translate(488.4 861.3) rotate(180)" style="font-family:'Liberation Sans',sans-serif;font-size:13.3px;font-style:italic;font-weight:bold;" textLength="48.4" lengthAdjust="spacingAndGlyphs">8,8mA</text>
<text x="0" y="0" transform="translate(204.4 846) rotate(-90)" style="font-family:'Liberation Sans',sans-serif;font-size:13.4px;font-style:italic;font-weight:bold;" textLength="90" lengthAdjust="spacingAndGlyphs">195V, 6,5mA</text>
<text x="0" y="0" transform="translate(268.6 821.5) rotate(-90)" style="font-family:'Liberation Sans',sans-serif;font-size:15.2px;font-style:italic;font-weight:bold;" textLength="25.9" lengthAdjust="spacingAndGlyphs">15V</text>
<text x="0" y="0" transform="translate(231.6 943.7) rotate(-90)" style="font-family:'Liberation Sans',sans-serif;font-size:20.3px;font-style:italic;font-weight:bold;" textLength="40.7" lengthAdjust="spacingAndGlyphs">AF 3</text>
<text x="0" y="0" transform="translate(330.4 951) rotate(-90)" style="font-family:'Liberation Sans',sans-serif;font-size:15.2px;font-style:italic;font-weight:bold;" textLength="22.1" lengthAdjust="spacingAndGlyphs">200</text>
<text x="0" y="0" transform="translate(341.6 950) rotate(-90)" style="font-family:'Liberation Sans',sans-serif;font-size:12px;font-style:italic;font-weight:bold;" textLength="20" lengthAdjust="spacingAndGlyphs">pF</text>
<text x="0" y="0" transform="translate(307 1057) rotate(-90)" style="font-family:'Liberation Sans',sans-serif;font-size:15.8px;font-style:italic;font-weight:bold;" textLength="24" lengthAdjust="spacingAndGlyphs">200</text>
<text x="0" y="0" transform="translate(321 1057) rotate(-90)" style="font-family:'Liberation Sans',sans-serif;font-size:15.1px;font-style:italic;font-weight:bold;" textLength="21" lengthAdjust="spacingAndGlyphs">pF</text>
<text x="0" y="0" transform="translate(348.5 780.6) rotate(-90)" style="font-family:'Liberation Sans',sans-serif;font-size:15.2px;font-style:italic;font-weight:bold;" textLength="23.6" lengthAdjust="spacingAndGlyphs">200</text>
<text x="0" y="0" transform="translate(363.5 777.8) rotate(-90)" style="font-family:'Liberation Sans',sans-serif;font-size:15.5px;font-style:italic;font-weight:bold;" textLength="20.4" lengthAdjust="spacingAndGlyphs">pF</text>
<text x="0" y="0" transform="translate(640.8 887.5) rotate(-90)" style="font-family:'Liberation Sans',sans-serif;font-size:18.9px;font-style:italic;font-weight:bold;" textLength="25.5" lengthAdjust="spacingAndGlyphs">CTA</text>
<text x="0" y="0" transform="translate(699.4 893) rotate(-90)" style="font-family:'Liberation Sans',sans-serif;font-size:13.4px;font-style:italic;font-weight:bold;" textLength="18.4" lengthAdjust="spacingAndGlyphs">0,1</text>
<text x="0" y="0" transform="translate(715.8 894) rotate(-90)" style="font-family:'Liberation Sans',sans-serif;font-size:17.3px;font-style:italic;font-weight:bold;" textLength="22" lengthAdjust="spacingAndGlyphs">µF</text>
<text x="0" y="0" transform="translate(657.3 928) rotate(-90)" style="font-family:'Liberation Sans',sans-serif;font-size:12.8px;font-style:italic;font-weight:bold;" textLength="14" lengthAdjust="spacingAndGlyphs">0,1</text>
<text x="0" y="0" transform="translate(669.8 927.5) rotate(-90)" style="font-family:'Liberation Sans',sans-serif;font-size:10.8px;font-style:italic;font-weight:bold;" textLength="18.5" lengthAdjust="spacingAndGlyphs">µF</text>
<text x="0" y="0" transform="translate(683.2 979.5) rotate(-90)" style="font-family:'Liberation Sans',sans-serif;font-size:14.9px;font-style:italic;font-weight:bold;" textLength="18.5" lengthAdjust="spacingAndGlyphs">0,5</text>
<text x="0" y="0" transform="translate(700.7 982) rotate(-90)" style="font-family:'Liberation Sans',sans-serif;font-size:16.8px;font-style:italic;font-weight:bold;" textLength="24.7" lengthAdjust="spacingAndGlyphs">MΩ</text>
<text x="0" y="0" transform="translate(682 1055) rotate(-90)" style="font-family:'Liberation Sans',sans-serif;font-size:16.6px;font-style:italic;font-weight:bold;" textLength="9.8" lengthAdjust="spacingAndGlyphs">5</text>
<text x="0" y="0" transform="translate(697.2 1061.9) rotate(-90)" style="font-family:'Liberation Sans',sans-serif;font-size:16.4px;font-style:italic;font-weight:bold;" textLength="19" lengthAdjust="spacingAndGlyphs">kΩ</text>
<text x="0" y="0" transform="translate(618 1077) rotate(-90)" style="font-family:'Liberation Sans',sans-serif;font-size:16.8px;font-style:italic;font-weight:bold;" textLength="39.5" lengthAdjust="spacingAndGlyphs">50nF</text>
<text x="0" y="0" transform="translate(250.8 1114) rotate(-90)" style="font-family:'Liberation Sans',sans-serif;font-size:16.1px;font-style:italic;font-weight:bold;" textLength="47" lengthAdjust="spacingAndGlyphs">450pF</text>
<text x="0" y="0" transform="translate(380 1158.5) rotate(-90)" style="font-family:'Liberation Sans',sans-serif;font-size:17px;font-style:italic;font-weight:bold;" textLength="23.5" lengthAdjust="spacingAndGlyphs">450</text>
<text x="0" y="0" transform="translate(394.9 1157.3) rotate(-90)" style="font-family:'Liberation Sans',sans-serif;font-size:12.2px;font-style:italic;font-weight:bold;" textLength="19.8" lengthAdjust="spacingAndGlyphs">pF</text>
<text x="0" y="0" transform="translate(299.8 1264.7) rotate(-90)" style="font-family:'Liberation Sans',sans-serif;font-size:17px;font-style:italic;font-weight:bold;" textLength="18.7" lengthAdjust="spacingAndGlyphs">100</text>
<text x="0" y="0" transform="translate(312.5 1266) rotate(-90)" style="font-family:'Liberation Sans',sans-serif;font-size:10.6px;font-style:italic;font-weight:bold;" textLength="17.4" lengthAdjust="spacingAndGlyphs">pF</text>
<text x="0" y="0" transform="translate(345.4 1262) rotate(-90)" style="font-family:'Liberation Sans',sans-serif;font-size:13.6px;font-style:italic;font-weight:bold;" textLength="12" lengthAdjust="spacingAndGlyphs">10</text>
<text x="0" y="0" transform="translate(361.5 1266) rotate(-90)" style="font-family:'Liberation Sans',sans-serif;font-size:17.1px;font-style:italic;font-weight:bold;" textLength="20" lengthAdjust="spacingAndGlyphs">nF</text>
<text x="0" y="0" transform="translate(369 1320) rotate(-90)" style="font-family:'Liberation Sans',sans-serif;font-size:13.7px;font-style:italic;font-weight:bold;" textLength="6" lengthAdjust="spacingAndGlyphs">1</text>
<text x="0" y="0" transform="translate(387.4 1327.6) rotate(-90)" style="font-family:'Liberation Sans',sans-serif;font-size:17px;font-style:italic;font-weight:bold;" textLength="19.6" lengthAdjust="spacingAndGlyphs">nF</text>
<text x="0" y="0" transform="translate(209.9 1347.4) rotate(-90)" style="font-family:'Liberation Sans',sans-serif;font-size:20.7px;font-style:italic;font-weight:bold;" textLength="77.8" lengthAdjust="spacingAndGlyphs">190V; 2,5mA</text>
<text x="0" y="0" transform="translate(685.7 1316.5) rotate(-90)" style="font-family:'Liberation Sans',sans-serif;font-size:17px;font-style:italic;font-weight:bold;" textLength="14.8" lengthAdjust="spacingAndGlyphs">30</text>
<text x="0" y="0" transform="translate(700.5 1316.5) rotate(-90)" style="font-family:'Liberation Sans',sans-serif;font-size:17.1px;font-style:italic;font-weight:bold;" textLength="18.5" lengthAdjust="spacingAndGlyphs">kΩ</text>
<text x="0" y="0" transform="translate(259 1369.4) rotate(-90)" style="font-family:'Liberation Sans',sans-serif;font-size:18.6px;font-style:italic;font-weight:bold;" textLength="28.4" lengthAdjust="spacingAndGlyphs">70V</text>
<text x="0" y="0" transform="translate(440.5 1406.4) rotate(180)" style="font-family:'Liberation Sans',sans-serif;font-size:17px;font-style:italic;font-weight:bold;" textLength="32.1" lengthAdjust="spacingAndGlyphs">8mA</text>
<text x="0" y="0" transform="translate(427 1451.1) rotate(180)" style="font-family:'Liberation Sans',sans-serif;font-size:14.9px;font-style:italic;font-weight:bold;" textLength="76.6" lengthAdjust="spacingAndGlyphs">45V; 1mA</text>
<text x="0" y="0" transform="translate(234.3 1507.6) rotate(-90)" style="font-family:'Liberation Sans',sans-serif;font-size:20.3px;font-style:italic;font-weight:bold;" textLength="58" lengthAdjust="spacingAndGlyphs">ACH 1</text>
<text x="0" y="0" transform="translate(272.4 1549.6) rotate(-90)" style="font-family:'Liberation Sans',sans-serif;font-size:13.2px;font-style:italic;font-weight:bold;" textLength="40.6" lengthAdjust="spacingAndGlyphs">100pF</text>
<text x="0" y="0" transform="translate(541.4 1389.4) rotate(-90)" style="font-family:'Liberation Sans',sans-serif;font-size:15.2px;font-style:italic;font-weight:bold;" textLength="18" lengthAdjust="spacingAndGlyphs">20</text>
<text x="0" y="0" transform="translate(556.7 1390.8) rotate(-90)" style="font-family:'Liberation Sans',sans-serif;font-size:15.2px;font-style:italic;font-weight:bold;" textLength="20.8" lengthAdjust="spacingAndGlyphs">kΩ</text>
<text x="0" y="0" transform="translate(612.3 1388) rotate(-90)" style="font-family:'Liberation Sans',sans-serif;font-size:13.4px;font-style:italic;font-weight:bold;" textLength="16.6" lengthAdjust="spacingAndGlyphs">0,1</text>
<text x="0" y="0" transform="translate(630.6 1396.4) rotate(-90)" style="font-family:'Liberation Sans',sans-serif;font-size:11.8px;font-style:italic;font-weight:bold;" textLength="23.6" lengthAdjust="spacingAndGlyphs">µF</text>
<text x="0" y="0" transform="translate(685.8 1392.8) rotate(-90)" style="font-family:'Liberation Sans',sans-serif;font-size:15.2px;font-style:italic;font-weight:bold;" textLength="22.8" lengthAdjust="spacingAndGlyphs">200</text>
<text x="0" y="0" transform="translate(701 1389.4) rotate(-90)" style="font-family:'Liberation Sans',sans-serif;font-size:15.1px;font-style:italic;font-weight:bold;" textLength="12.4" lengthAdjust="spacingAndGlyphs">Ω</text>
<text x="0" y="0" transform="translate(615.1 1438) rotate(-90)" style="font-family:'Liberation Sans',sans-serif;font-size:13.4px;font-style:italic;font-weight:bold;" textLength="27.7" lengthAdjust="spacingAndGlyphs">4µF</text>
<text x="0" y="0" transform="translate(685.8 1436.7) rotate(-90)" style="font-family:'Liberation Sans',sans-serif;font-size:15.2px;font-style:italic;font-weight:bold;" textLength="16.7" lengthAdjust="spacingAndGlyphs">50</text>
<text x="0" y="0" transform="translate(701 1438) rotate(-90)" style="font-family:'Liberation Sans',sans-serif;font-size:15.1px;font-style:italic;font-weight:bold;" textLength="22.2" lengthAdjust="spacingAndGlyphs">kΩ</text>
<text x="0" y="0" transform="translate(699.7 1504.7) rotate(-90)" style="font-family:'Liberation Sans',sans-serif;font-size:15.2px;font-style:italic;font-weight:bold;" textLength="18" lengthAdjust="spacingAndGlyphs">25</text>
<text x="0" y="0" transform="translate(716.4 1506) rotate(-90)" style="font-family:'Liberation Sans',sans-serif;font-size:17.1px;font-style:italic;font-weight:bold;" textLength="20.7" lengthAdjust="spacingAndGlyphs">kΩ</text>
<text x="0" y="0" transform="translate(492.8 1497.8) rotate(-90)" style="font-family:'Liberation Sans',sans-serif;font-size:15.2px;font-style:italic;font-weight:bold;" textLength="9.8" lengthAdjust="spacingAndGlyphs">2</text>
<text x="0" y="0" transform="translate(506.7 1500.5) rotate(-90)" style="font-family:'Liberation Sans',sans-serif;font-size:15.2px;font-style:italic;font-weight:bold;" textLength="25" lengthAdjust="spacingAndGlyphs">MΩ</text>
<text x="0" y="0" transform="translate(662 1586.7) rotate(-90)" style="font-family:'Liberation Sans',sans-serif;font-size:15.1px;font-style:italic;font-weight:bold;" textLength="37.7" lengthAdjust="spacingAndGlyphs">50nF</text>
<text x="0" y="0" transform="translate(205.4 1848) rotate(-90)" style="font-family:'Liberation Sans',sans-serif;font-size:16.1px;font-style:italic;font-weight:bold;" textLength="78" lengthAdjust="spacingAndGlyphs">170V; 4,2mA</text>
<text x="0" y="0" transform="translate(272.6 1821) rotate(-90)" style="font-family:'Liberation Sans',sans-serif;font-size:20.3px;font-style:italic;font-weight:bold;" textLength="26" lengthAdjust="spacingAndGlyphs">75V</text>
<text x="0" y="0" transform="translate(487.4 1860.7) rotate(180)" style="font-family:'Liberation Sans',sans-serif;font-size:16.9px;font-style:italic;font-weight:bold;" textLength="46.9" lengthAdjust="spacingAndGlyphs">5,6mA</text>
<text x="0" y="0" transform="translate(587.2 1754) rotate(-90)" style="font-family:'Liberation Sans',sans-serif;font-size:15.3px;font-style:italic;font-weight:bold;" textLength="10" lengthAdjust="spacingAndGlyphs">5</text>
<text x="0" y="0" transform="translate(602.5 1762) rotate(-90)" style="font-family:'Liberation Sans',sans-serif;font-size:15.2px;font-style:italic;font-weight:bold;" textLength="19.2" lengthAdjust="spacingAndGlyphs">kΩ</text>
<text x="0" y="0" transform="translate(653.9 1787) rotate(-90)" style="font-family:'Liberation Sans',sans-serif;font-size:15.2px;font-style:italic;font-weight:bold;" textLength="15" lengthAdjust="spacingAndGlyphs">25</text>
<text x="0" y="0" transform="translate(669 1790) rotate(-90)" style="font-family:'Liberation Sans',sans-serif;font-size:15.1px;font-style:italic;font-weight:bold;" textLength="19.5" lengthAdjust="spacingAndGlyphs">kΩ</text>
<text x="0" y="0" transform="translate(706.7 1847) rotate(-90)" style="font-family:'Liberation Sans',sans-serif;font-size:13.3px;font-style:italic;font-weight:bold;" textLength="18" lengthAdjust="spacingAndGlyphs">0,1</text>
<text x="0" y="0" transform="translate(724.8 1854) rotate(-90)" style="font-family:'Liberation Sans',sans-serif;font-size:13.4px;font-style:italic;font-weight:bold;" textLength="22.3" lengthAdjust="spacingAndGlyphs">µF</text>
<text x="0" y="0" transform="translate(795.3 1836) rotate(-90)" style="font-family:'Liberation Sans',sans-serif;font-size:14.9px;font-style:italic;font-weight:bold;" textLength="28" lengthAdjust="spacingAndGlyphs">4µF</text>
<text x="0" y="0" transform="translate(617.5 1908) rotate(-90)" style="font-family:'Liberation Sans',sans-serif;font-size:14.8px;font-style:italic;font-weight:bold;" textLength="33.3" lengthAdjust="spacingAndGlyphs">0,1µF</text>
<text x="0" y="0" transform="translate(687 1891.4) rotate(-90)" style="font-family:'Liberation Sans',sans-serif;font-size:15.1px;font-style:italic;font-weight:bold;" textLength="22.4" lengthAdjust="spacingAndGlyphs">700</text>
<text x="0" y="0" transform="translate(701 1887) rotate(-90)" style="font-family:'Liberation Sans',sans-serif;font-size:13.2px;font-style:italic;font-weight:bold;" textLength="11" lengthAdjust="spacingAndGlyphs">Ω</text>
<text x="0" y="0" transform="translate(662 1962) rotate(-90)" style="font-family:'Liberation Sans',sans-serif;font-size:15.1px;font-style:italic;font-weight:bold;" textLength="37.3" lengthAdjust="spacingAndGlyphs">50nF</text>
<text x="0" y="0" transform="translate(235.5 1948) rotate(-90)" style="font-family:'Liberation Sans',sans-serif;font-size:18.5px;font-style:italic;font-weight:bold;" textLength="44.3" lengthAdjust="spacingAndGlyphs">AF 3</text>
<text x="0" y="0" transform="translate(318 2022) rotate(-90)" style="font-family:'Liberation Sans',sans-serif;font-size:16.4px;font-style:italic;font-weight:bold;" textLength="12" lengthAdjust="spacingAndGlyphs">10</text>
<text x="0" y="0" transform="translate(335.1 2026) rotate(-90)" style="font-family:'Liberation Sans',sans-serif;font-size:14.6px;font-style:italic;font-weight:bold;" textLength="20" lengthAdjust="spacingAndGlyphs">pF</text>
<text x="0" y="0" transform="translate(243.8 2179) rotate(-90)" style="font-family:'Liberation Sans',sans-serif;font-size:14.7px;font-style:italic;font-weight:bold;" textLength="47" lengthAdjust="spacingAndGlyphs">500pF</text>
<text x="0" y="0" transform="translate(288.6 2208.6) rotate(-90)" style="font-family:'Liberation Sans',sans-serif;font-size:15.2px;font-style:italic;font-weight:bold;" textLength="16" lengthAdjust="spacingAndGlyphs">20</text>
<text x="0" y="0" transform="translate(304.7 2213.6) rotate(-90)" style="font-family:'Liberation Sans',sans-serif;font-size:17px;font-style:italic;font-weight:bold;" textLength="21" lengthAdjust="spacingAndGlyphs">kΩ</text>
<text x="0" y="0" transform="translate(688 2069) rotate(-90)" style="font-family:'Liberation Sans',sans-serif;font-size:18.8px;font-style:italic;font-weight:bold;" textLength="19" lengthAdjust="spacingAndGlyphs">50</text>
<text x="0" y="0" transform="translate(703 2069) rotate(-90)" style="font-family:'Liberation Sans',sans-serif;font-size:16px;font-style:italic;font-weight:bold;" textLength="20.5" lengthAdjust="spacingAndGlyphs">kΩ</text>
<text x="0" y="0" transform="translate(728.6 2175.8) rotate(-90)" style="font-family:'Liberation Sans',sans-serif;font-size:18.6px;font-style:italic;font-weight:bold;" textLength="28.8" lengthAdjust="spacingAndGlyphs">5nF</text>
<text x="0" y="0" transform="translate(943.2 1959.7) rotate(-90)" style="font-family:'Liberation Sans',sans-serif;font-size:19.5px;font-style:italic;font-weight:bold;" textLength="96.9" lengthAdjust="spacingAndGlyphs">ZF: 484 kHz</text>
</svg>
</body></html>
